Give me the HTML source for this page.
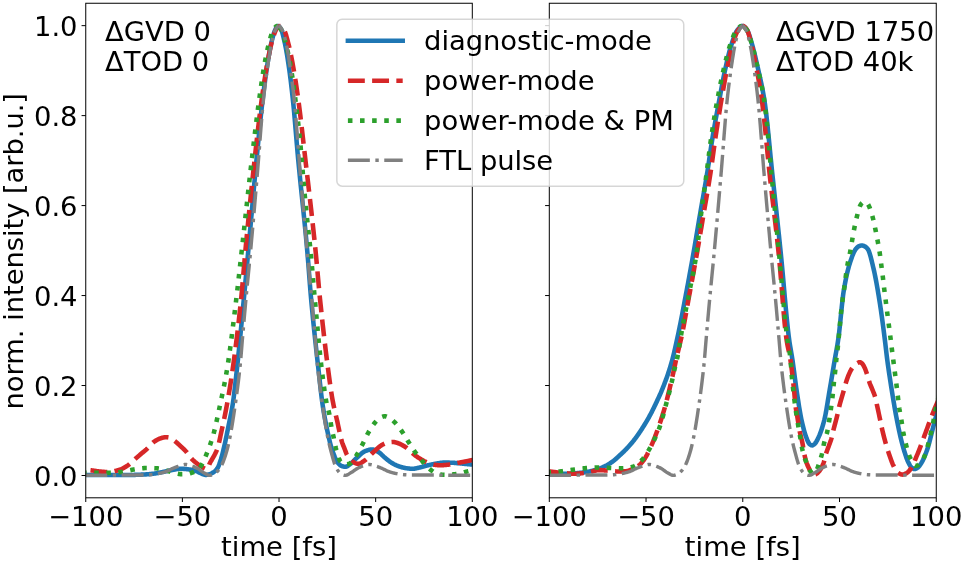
<!DOCTYPE html>
<html lang="en">
<head>
<meta charset="utf-8">
<title>Pulse shapes</title>
<style>html,body{margin:0;padding:0;background:#fff;}svg{display:block;}</style>
</head>
<body>
<svg width="962" height="565" viewBox="0 0 962 565" font-family="'DejaVu Sans', 'Liberation Sans', sans-serif" font-size="27.4" fill="#000">
<defs>
<clipPath id="cl"><rect x="85.75" y="3.25" width="386.55" height="494.55"/></clipPath>
<clipPath id="cr"><rect x="549.3" y="3.25" width="386.95" height="494.55"/></clipPath>
</defs>
<rect width="962" height="565" fill="#fff"/>
<g clip-path="url(#cl)" fill="none" stroke-linejoin="round">
<path d="M81.88 475.05 L82.32 475.05 L82.76 475.05 L83.20 475.05 L83.64 475.05 L84.08 475.05 L84.52 475.05 L84.95 475.05 L85.39 475.05 L85.83 475.05 L86.27 475.05 L86.71 475.05 L87.15 475.05 L87.59 475.05 L88.02 475.05 L88.46 475.05 L88.90 475.05 L89.34 475.05 L89.78 475.05 L90.22 475.05 L90.66 475.05 L91.09 475.05 L91.53 475.05 L91.97 475.05 L92.41 475.05 L92.85 475.05 L93.29 475.05 L93.73 475.05 L94.16 475.05 L94.60 475.05 L95.04 475.05 L95.48 475.05 L95.92 475.05 L96.36 475.05 L96.80 475.05 L97.23 475.05 L97.67 475.05 L98.11 475.05 L98.55 475.05 L98.99 475.05 L99.43 475.05 L99.87 475.05 L100.30 475.05 L100.74 475.05 L101.18 475.05 L101.62 475.05 L102.06 475.05 L102.50 475.05 L102.94 475.05 L103.37 475.05 L103.81 475.05 L104.25 475.05 L104.69 475.05 L105.13 475.05 L105.57 475.05 L106.01 475.05 L106.44 475.05 L106.88 475.05 L107.32 475.05 L107.76 475.05 L108.20 475.05 L108.64 475.05 L109.08 475.05 L109.51 475.05 L109.95 475.05 L110.39 475.05 L110.83 475.05 L111.27 475.05 L111.71 475.05 L112.15 475.05 L112.58 475.05 L113.02 475.05 L113.46 475.05 L113.90 475.05 L114.34 475.05 L114.78 475.05 L115.22 475.05 L115.65 475.05 L116.09 475.05 L116.53 475.05 L116.97 475.05 L117.41 475.05 L117.85 475.05 L118.29 475.05 L118.72 475.05 L119.16 475.05 L119.60 475.05 L120.04 475.05 L120.48 475.05 L120.92 475.05 L121.36 475.05 L121.80 475.05 L122.23 475.05 L122.67 475.05 L123.11 475.05 L123.55 475.05 L123.99 475.05 L124.43 475.05 L124.87 475.05 L125.30 475.05 L125.74 475.05 L126.18 475.04 L126.62 475.04 L127.06 475.04 L127.50 475.03 L127.94 475.03 L128.37 475.02 L128.81 475.02 L129.25 475.01 L129.69 475.00 L130.13 474.99 L130.57 474.98 L131.01 474.97 L131.44 474.96 L131.88 474.95 L132.32 474.94 L132.76 474.93 L133.20 474.92 L133.64 474.91 L134.08 474.90 L134.51 474.88 L134.95 474.87 L135.39 474.86 L135.83 474.84 L136.27 474.83 L136.71 474.81 L137.15 474.80 L137.58 474.78 L138.02 474.77 L138.46 474.75 L138.90 474.74 L139.34 474.72 L139.78 474.70 L140.22 474.69 L140.65 474.67 L141.09 474.65 L141.53 474.63 L141.97 474.62 L142.41 474.60 L142.85 474.58 L143.29 474.56 L143.72 474.54 L144.16 474.52 L144.60 474.49 L145.04 474.46 L145.48 474.43 L145.92 474.40 L146.36 474.37 L146.79 474.34 L147.23 474.31 L147.67 474.27 L148.11 474.23 L148.55 474.20 L148.99 474.16 L149.43 474.12 L149.86 474.07 L150.30 474.03 L150.74 473.99 L151.18 473.94 L151.62 473.90 L152.06 473.85 L152.50 473.80 L152.93 473.75 L153.37 473.70 L153.81 473.65 L154.25 473.60 L154.69 473.54 L155.13 473.47 L155.57 473.40 L156.00 473.33 L156.44 473.26 L156.88 473.18 L157.32 473.10 L157.76 473.02 L158.20 472.93 L158.64 472.84 L159.07 472.76 L159.51 472.67 L159.95 472.58 L160.39 472.49 L160.83 472.40 L161.27 472.31 L161.71 472.22 L162.14 472.13 L162.58 472.04 L163.02 471.95 L163.46 471.86 L163.90 471.77 L164.34 471.68 L164.78 471.59 L165.21 471.49 L165.65 471.39 L166.09 471.29 L166.53 471.19 L166.97 471.09 L167.41 470.99 L167.85 470.89 L168.28 470.79 L168.72 470.69 L169.16 470.59 L169.60 470.49 L170.04 470.40 L170.48 470.31 L170.92 470.22 L171.35 470.13 L171.79 470.05 L172.23 469.97 L172.67 469.89 L173.11 469.82 L173.55 469.74 L173.99 469.66 L174.42 469.58 L174.86 469.49 L175.30 469.41 L175.74 469.33 L176.18 469.25 L176.62 469.18 L177.06 469.10 L177.49 469.04 L177.93 468.97 L178.37 468.92 L178.81 468.87 L179.25 468.83 L179.69 468.80 L180.13 468.77 L180.56 468.76 L181.00 468.76 L181.44 468.76 L181.88 468.77 L182.32 468.79 L182.76 468.81 L183.20 468.83 L183.63 468.86 L184.07 468.89 L184.51 468.92 L184.95 468.96 L185.39 469.00 L185.83 469.05 L186.27 469.09 L186.70 469.14 L187.14 469.19 L187.58 469.24 L188.02 469.29 L188.46 469.35 L188.90 469.40 L189.34 469.45 L189.77 469.52 L190.21 469.59 L190.65 469.66 L191.09 469.75 L191.53 469.84 L191.97 469.93 L192.41 470.04 L192.84 470.15 L193.28 470.26 L193.72 470.38 L194.16 470.50 L194.60 470.63 L195.04 470.77 L195.48 470.90 L195.91 471.04 L196.35 471.18 L196.79 471.33 L197.23 471.51 L197.67 471.71 L198.11 471.92 L198.55 472.14 L198.98 472.38 L199.42 472.61 L199.86 472.85 L200.30 473.07 L200.74 473.29 L201.18 473.49 L201.62 473.67 L202.05 473.83 L202.49 474.00 L202.93 474.18 L203.37 474.35 L203.81 474.52 L204.25 474.66 L204.69 474.78 L205.12 474.86 L205.56 474.91 L206.00 474.91 L206.44 474.88 L206.88 474.83 L207.32 474.76 L207.76 474.67 L208.19 474.57 L208.63 474.46 L209.07 474.34 L209.51 474.22 L209.95 474.09 L210.39 473.93 L210.83 473.74 L211.26 473.54 L211.70 473.31 L212.14 473.07 L212.58 472.81 L213.02 472.54 L213.46 472.26 L213.90 471.96 L214.33 471.65 L214.77 471.30 L215.21 470.93 L215.65 470.52 L216.09 470.07 L216.53 469.58 L216.97 469.04 L217.40 468.42 L217.84 467.65 L218.28 466.74 L218.72 465.69 L219.16 464.55 L219.60 463.33 L220.04 462.06 L220.47 460.76 L220.91 459.42 L221.35 457.96 L221.79 456.39 L222.23 454.72 L222.67 452.98 L223.11 451.20 L223.54 449.38 L223.98 447.54 L224.42 445.64 L224.86 443.68 L225.30 441.66 L225.74 439.60 L226.18 437.50 L226.62 435.37 L227.05 433.22 L227.49 431.05 L227.93 428.86 L228.37 426.68 L228.81 424.50 L229.25 422.37 L229.69 420.28 L230.12 418.19 L230.56 416.07 L231.00 413.90 L231.44 411.64 L231.88 409.27 L232.32 406.75 L232.76 404.07 L233.19 401.15 L233.63 397.96 L234.07 394.52 L234.51 390.89 L234.95 387.10 L235.39 383.19 L235.83 379.20 L236.26 375.17 L236.70 371.14 L237.14 367.12 L237.58 363.02 L238.02 358.84 L238.46 354.58 L238.90 350.26 L239.33 345.88 L239.77 341.44 L240.21 336.95 L240.65 332.42 L241.09 327.86 L241.53 323.28 L241.97 318.67 L242.40 314.05 L242.84 309.43 L243.28 304.81 L243.72 300.19 L244.16 295.58 L244.60 290.92 L245.04 286.23 L245.47 281.50 L245.91 276.75 L246.35 271.97 L246.79 267.19 L247.23 262.39 L247.67 257.59 L248.11 252.80 L248.54 248.00 L248.98 243.17 L249.42 238.31 L249.86 233.42 L250.30 228.51 L250.74 223.59 L251.18 218.65 L251.61 213.71 L252.05 208.77 L252.49 203.84 L252.93 198.93 L253.37 194.03 L253.81 189.15 L254.25 184.31 L254.68 179.51 L255.12 174.74 L255.56 170.03 L256.00 165.36 L256.44 160.76 L256.88 156.21 L257.32 151.65 L257.75 147.08 L258.19 142.53 L258.63 138.00 L259.07 133.51 L259.51 129.06 L259.95 124.68 L260.39 120.36 L260.82 116.13 L261.26 112.00 L261.70 107.97 L262.14 104.07 L262.58 100.29 L263.02 96.63 L263.46 93.03 L263.89 89.50 L264.33 86.04 L264.77 82.67 L265.21 79.38 L265.65 76.18 L266.09 73.07 L266.53 70.06 L266.96 67.15 L267.40 64.34 L267.84 61.60 L268.28 58.92 L268.72 56.29 L269.16 53.75 L269.60 51.30 L270.03 48.97 L270.47 46.77 L270.91 44.71 L271.35 42.81 L271.79 41.00 L272.23 39.23 L272.67 37.51 L273.10 35.89 L273.54 34.36 L273.98 32.97 L274.42 31.72 L274.86 30.64 L275.30 29.74 L275.74 28.88 L276.17 28.04 L276.61 27.28 L277.05 26.65 L277.49 26.20 L277.93 25.98 L278.37 26.02 L278.81 26.25 L279.24 26.65 L279.68 27.17 L280.12 27.79 L280.56 28.47 L281.00 29.18 L281.44 30.07 L281.88 31.22 L282.31 32.61 L282.75 34.19 L283.19 35.92 L283.63 37.76 L284.07 39.68 L284.51 41.64 L284.95 43.60 L285.38 45.68 L285.82 47.93 L286.26 50.32 L286.70 52.84 L287.14 55.47 L287.58 58.21 L288.02 61.04 L288.45 63.95 L288.89 66.92 L289.33 70.02 L289.77 73.24 L290.21 76.59 L290.65 80.07 L291.09 83.66 L291.52 87.38 L291.96 91.21 L292.40 95.15 L292.84 99.19 L293.28 103.41 L293.72 107.90 L294.16 112.63 L294.59 117.56 L295.03 122.63 L295.47 127.80 L295.91 133.03 L296.35 138.27 L296.79 143.47 L297.23 148.60 L297.66 153.60 L298.10 158.42 L298.54 163.09 L298.98 167.65 L299.42 172.14 L299.86 176.55 L300.30 180.90 L300.73 185.21 L301.17 189.47 L301.61 193.71 L302.05 197.94 L302.49 202.16 L302.93 206.39 L303.37 210.63 L303.80 214.91 L304.24 219.23 L304.68 223.60 L305.12 228.03 L305.56 232.53 L306.00 237.13 L306.44 241.81 L306.87 246.61 L307.31 251.53 L307.75 256.71 L308.19 262.16 L308.63 267.79 L309.07 273.52 L309.51 279.25 L309.94 284.90 L310.38 290.38 L310.82 295.60 L311.26 300.49 L311.70 305.22 L312.14 309.85 L312.58 314.38 L313.01 318.82 L313.45 323.18 L313.89 327.47 L314.33 331.69 L314.77 335.85 L315.21 339.96 L315.65 344.02 L316.08 348.04 L316.52 352.04 L316.96 356.00 L317.40 359.96 L317.84 363.90 L318.28 367.83 L318.72 371.79 L319.15 375.79 L319.59 379.81 L320.03 383.81 L320.47 387.75 L320.91 391.58 L321.35 395.26 L321.79 398.76 L322.22 402.03 L322.66 405.04 L323.10 407.90 L323.54 410.65 L323.98 413.29 L324.42 415.84 L324.86 418.30 L325.29 420.67 L325.73 422.96 L326.17 425.19 L326.61 427.34 L327.05 429.44 L327.49 431.49 L327.93 433.50 L328.36 435.49 L328.80 437.45 L329.24 439.36 L329.68 441.22 L330.12 443.00 L330.56 444.71 L331.00 446.32 L331.43 447.83 L331.87 449.22 L332.31 450.49 L332.75 451.71 L333.19 452.90 L333.63 454.07 L334.07 455.20 L334.51 456.29 L334.94 457.33 L335.38 458.32 L335.82 459.26 L336.26 460.14 L336.70 460.96 L337.14 461.70 L337.58 462.37 L338.01 462.96 L338.45 463.46 L338.89 463.92 L339.33 464.36 L339.77 464.76 L340.21 465.12 L340.65 465.44 L341.08 465.71 L341.52 465.94 L341.96 466.10 L342.40 466.25 L342.84 466.39 L343.28 466.51 L343.72 466.62 L344.15 466.71 L344.59 466.78 L345.03 466.82 L345.47 466.82 L345.91 466.76 L346.35 466.64 L346.79 466.46 L347.22 466.23 L347.66 465.96 L348.10 465.66 L348.54 465.34 L348.98 465.00 L349.42 464.66 L349.86 464.32 L350.29 463.99 L350.73 463.67 L351.17 463.33 L351.61 462.96 L352.05 462.56 L352.49 462.14 L352.93 461.71 L353.36 461.27 L353.80 460.82 L354.24 460.36 L354.68 459.90 L355.12 459.44 L355.56 458.99 L356.00 458.56 L356.43 458.13 L356.87 457.73 L357.31 457.34 L357.75 456.95 L358.19 456.55 L358.63 456.14 L359.07 455.73 L359.50 455.32 L359.94 454.91 L360.38 454.51 L360.82 454.11 L361.26 453.73 L361.70 453.36 L362.14 453.00 L362.57 452.66 L363.01 452.34 L363.45 452.05 L363.89 451.78 L364.33 451.54 L364.77 451.33 L365.21 451.16 L365.64 450.99 L366.08 450.82 L366.52 450.66 L366.96 450.50 L367.40 450.35 L367.84 450.20 L368.28 450.06 L368.71 449.93 L369.15 449.82 L369.59 449.71 L370.03 449.62 L370.47 449.55 L370.91 449.49 L371.35 449.45 L371.78 449.43 L372.22 449.43 L372.66 449.47 L373.10 449.54 L373.54 449.65 L373.98 449.78 L374.42 449.94 L374.85 450.12 L375.29 450.32 L375.73 450.54 L376.17 450.77 L376.61 451.01 L377.05 451.26 L377.49 451.51 L377.92 451.76 L378.36 452.01 L378.80 452.26 L379.24 452.55 L379.68 452.87 L380.12 453.22 L380.56 453.60 L380.99 454.00 L381.43 454.41 L381.87 454.83 L382.31 455.26 L382.75 455.69 L383.19 456.11 L383.63 456.53 L384.06 456.93 L384.50 457.31 L384.94 457.68 L385.38 458.04 L385.82 458.41 L386.26 458.77 L386.70 459.14 L387.13 459.50 L387.57 459.86 L388.01 460.22 L388.45 460.57 L388.89 460.91 L389.33 461.24 L389.77 461.56 L390.20 461.87 L390.64 462.16 L391.08 462.44 L391.52 462.70 L391.96 462.97 L392.40 463.23 L392.84 463.48 L393.27 463.73 L393.71 463.98 L394.15 464.21 L394.59 464.45 L395.03 464.67 L395.47 464.89 L395.91 465.10 L396.34 465.31 L396.78 465.50 L397.22 465.69 L397.66 465.87 L398.10 466.04 L398.54 466.20 L398.98 466.35 L399.41 466.50 L399.85 466.64 L400.29 466.78 L400.73 466.92 L401.17 467.06 L401.61 467.18 L402.05 467.31 L402.48 467.43 L402.92 467.54 L403.36 467.65 L403.80 467.75 L404.24 467.84 L404.68 467.93 L405.12 468.00 L405.55 468.07 L405.99 468.14 L406.43 468.20 L406.87 468.26 L407.31 468.33 L407.75 468.39 L408.19 468.44 L408.62 468.50 L409.06 468.55 L409.50 468.60 L409.94 468.64 L410.38 468.67 L410.82 468.71 L411.26 468.73 L411.69 468.75 L412.13 468.76 L412.57 468.76 L413.01 468.74 L413.45 468.71 L413.89 468.67 L414.33 468.62 L414.76 468.56 L415.20 468.49 L415.64 468.41 L416.08 468.32 L416.52 468.23 L416.96 468.13 L417.40 468.03 L417.83 467.93 L418.27 467.83 L418.71 467.72 L419.15 467.62 L419.59 467.52 L420.03 467.43 L420.47 467.33 L420.90 467.23 L421.34 467.13 L421.78 467.01 L422.22 466.90 L422.66 466.78 L423.10 466.66 L423.54 466.53 L423.97 466.41 L424.41 466.28 L424.85 466.16 L425.29 466.03 L425.73 465.90 L426.17 465.78 L426.61 465.66 L427.04 465.54 L427.48 465.43 L427.92 465.32 L428.36 465.22 L428.80 465.12 L429.24 465.02 L429.68 464.92 L430.11 464.82 L430.55 464.72 L430.99 464.62 L431.43 464.52 L431.87 464.42 L432.31 464.33 L432.75 464.23 L433.18 464.14 L433.62 464.05 L434.06 463.96 L434.50 463.88 L434.94 463.79 L435.38 463.71 L435.82 463.63 L436.25 463.56 L436.69 463.49 L437.13 463.42 L437.57 463.35 L438.01 463.29 L438.45 463.22 L438.89 463.15 L439.33 463.08 L439.76 463.01 L440.20 462.95 L440.64 462.88 L441.08 462.82 L441.52 462.77 L441.96 462.72 L442.40 462.68 L442.83 462.64 L443.27 462.62 L443.71 462.60 L444.15 462.60 L444.59 462.60 L445.03 462.60 L445.47 462.60 L445.90 462.61 L446.34 462.61 L446.78 462.61 L447.22 462.62 L447.66 462.63 L448.10 462.63 L448.54 462.64 L448.97 462.65 L449.41 462.65 L449.85 462.66 L450.29 462.67 L450.73 462.68 L451.17 462.69 L451.61 462.70 L452.04 462.72 L452.48 462.74 L452.92 462.77 L453.36 462.80 L453.80 462.83 L454.24 462.87 L454.68 462.90 L455.11 462.94 L455.55 462.98 L455.99 463.02 L456.43 463.06 L456.87 463.10 L457.31 463.14 L457.75 463.18 L458.18 463.22 L458.62 463.26 L459.06 463.30 L459.50 463.34 L459.94 463.37 L460.38 463.42 L460.82 463.46 L461.25 463.50 L461.69 463.55 L462.13 463.59 L462.57 463.64 L463.01 463.68 L463.45 463.73 L463.89 463.77 L464.32 463.82 L464.76 463.87 L465.20 463.91 L465.64 463.96 L466.08 464.01 L466.52 464.05 L466.96 464.09 L467.39 464.14 L467.83 464.18 L468.27 464.22 L468.71 464.26 L469.15 464.30 L469.59 464.34 L470.03 464.37 L470.46 464.40 L470.90 464.43 L471.34 464.46 L471.78 464.49 L472.22 464.52 L472.66 464.54 L473.10 464.57 L473.53 464.59 L473.97 464.61 L474.41 464.64 L474.85 464.66 L475.29 464.68 L475.73 464.71 L476.17 464.73" stroke="#1f77b4" stroke-width="4.57"/>
<path d="M81.88 469.79 L82.32 469.81 L82.76 469.83 L83.20 469.85 L83.64 469.87 L84.08 469.89 L84.52 469.91 L84.95 469.94 L85.39 469.96 L85.83 469.99 L86.27 470.02 L86.71 470.04 L87.15 470.07 L87.59 470.10 L88.02 470.13 L88.46 470.16 L88.90 470.18 L89.34 470.21 L89.78 470.24 L90.22 470.27 L90.66 470.31 L91.09 470.34 L91.53 470.39 L91.97 470.44 L92.41 470.49 L92.85 470.55 L93.29 470.61 L93.73 470.67 L94.16 470.74 L94.60 470.81 L95.04 470.88 L95.48 470.95 L95.92 471.02 L96.36 471.08 L96.80 471.15 L97.23 471.21 L97.67 471.27 L98.11 471.33 L98.55 471.38 L98.99 471.43 L99.43 471.47 L99.87 471.51 L100.30 471.55 L100.74 471.59 L101.18 471.63 L101.62 471.68 L102.06 471.72 L102.50 471.76 L102.94 471.79 L103.37 471.83 L103.81 471.86 L104.25 471.89 L104.69 471.92 L105.13 471.94 L105.57 471.96 L106.01 471.98 L106.44 471.99 L106.88 471.99 L107.32 471.99 L107.76 471.98 L108.20 471.97 L108.64 471.95 L109.08 471.92 L109.51 471.89 L109.95 471.86 L110.39 471.82 L110.83 471.78 L111.27 471.74 L111.71 471.69 L112.15 471.64 L112.58 471.58 L113.02 471.50 L113.46 471.40 L113.90 471.30 L114.34 471.20 L114.78 471.09 L115.22 470.98 L115.65 470.88 L116.09 470.77 L116.53 470.66 L116.97 470.55 L117.41 470.43 L117.85 470.31 L118.29 470.18 L118.72 470.05 L119.16 469.91 L119.60 469.76 L120.04 469.61 L120.48 469.45 L120.92 469.28 L121.36 469.10 L121.80 468.90 L122.23 468.69 L122.67 468.47 L123.11 468.24 L123.55 468.00 L123.99 467.76 L124.43 467.51 L124.87 467.25 L125.30 467.00 L125.74 466.74 L126.18 466.47 L126.62 466.19 L127.06 465.91 L127.50 465.62 L127.94 465.31 L128.37 465.00 L128.81 464.68 L129.25 464.35 L129.69 464.01 L130.13 463.66 L130.57 463.29 L131.01 462.90 L131.44 462.51 L131.88 462.10 L132.32 461.69 L132.76 461.27 L133.20 460.85 L133.64 460.44 L134.08 460.02 L134.51 459.60 L134.95 459.20 L135.39 458.80 L135.83 458.41 L136.27 458.02 L136.71 457.64 L137.15 457.25 L137.58 456.87 L138.02 456.49 L138.46 456.11 L138.90 455.74 L139.34 455.36 L139.78 454.98 L140.22 454.61 L140.65 454.23 L141.09 453.85 L141.53 453.48 L141.97 453.10 L142.41 452.73 L142.85 452.37 L143.29 452.00 L143.72 451.64 L144.16 451.28 L144.60 450.92 L145.04 450.56 L145.48 450.19 L145.92 449.81 L146.36 449.43 L146.79 449.04 L147.23 448.64 L147.67 448.23 L148.11 447.80 L148.55 447.33 L148.99 446.84 L149.43 446.34 L149.86 445.83 L150.30 445.32 L150.74 444.81 L151.18 444.31 L151.62 443.84 L152.06 443.38 L152.50 442.96 L152.93 442.58 L153.37 442.24 L153.81 441.92 L154.25 441.61 L154.69 441.31 L155.13 441.02 L155.57 440.74 L156.00 440.47 L156.44 440.22 L156.88 439.97 L157.32 439.74 L157.76 439.51 L158.20 439.30 L158.64 439.10 L159.07 438.91 L159.51 438.73 L159.95 438.56 L160.39 438.39 L160.83 438.23 L161.27 438.08 L161.71 437.94 L162.14 437.82 L162.58 437.71 L163.02 437.61 L163.46 437.53 L163.90 437.44 L164.34 437.36 L164.78 437.29 L165.21 437.24 L165.65 437.21 L166.09 437.20 L166.53 437.22 L166.97 437.25 L167.41 437.29 L167.85 437.35 L168.28 437.42 L168.72 437.49 L169.16 437.59 L169.60 437.76 L170.04 437.99 L170.48 438.26 L170.92 438.55 L171.35 438.84 L171.79 439.11 L172.23 439.37 L172.67 439.64 L173.11 439.92 L173.55 440.20 L173.99 440.50 L174.42 440.80 L174.86 441.12 L175.30 441.45 L175.74 441.80 L176.18 442.16 L176.62 442.54 L177.06 442.92 L177.49 443.31 L177.93 443.71 L178.37 444.11 L178.81 444.52 L179.25 444.93 L179.69 445.34 L180.13 445.75 L180.56 446.16 L181.00 446.56 L181.44 446.96 L181.88 447.37 L182.32 447.77 L182.76 448.18 L183.20 448.59 L183.63 449.00 L184.07 449.43 L184.51 449.87 L184.95 450.31 L185.39 450.77 L185.83 451.24 L186.27 451.73 L186.70 452.26 L187.14 452.82 L187.58 453.42 L188.02 454.04 L188.46 454.68 L188.90 455.31 L189.34 455.94 L189.77 456.56 L190.21 457.14 L190.65 457.69 L191.09 458.20 L191.53 458.67 L191.97 459.12 L192.41 459.56 L192.84 459.99 L193.28 460.41 L193.72 460.81 L194.16 461.20 L194.60 461.58 L195.04 461.96 L195.48 462.32 L195.91 462.68 L196.35 463.02 L196.79 463.37 L197.23 463.70 L197.67 464.02 L198.11 464.34 L198.55 464.64 L198.98 464.94 L199.42 465.24 L199.86 465.53 L200.30 465.82 L200.74 466.10 L201.18 466.39 L201.62 466.67 L202.05 466.96 L202.49 467.26 L202.93 467.55 L203.37 467.84 L203.81 468.11 L204.25 468.36 L204.69 468.56 L205.12 468.77 L205.56 468.97 L206.00 469.12 L206.44 469.20 L206.88 469.12 L207.32 468.80 L207.76 468.30 L208.19 467.69 L208.63 466.55 L209.07 465.09 L209.51 463.89 L209.95 462.99 L210.39 462.18 L210.83 461.44 L211.26 460.72 L211.70 459.99 L212.14 459.20 L212.58 458.39 L213.02 457.60 L213.46 456.83 L213.90 456.06 L214.33 455.28 L214.77 454.48 L215.21 453.64 L215.65 452.76 L216.09 451.83 L216.53 450.83 L216.97 449.74 L217.40 448.57 L217.84 447.21 L218.28 445.64 L218.72 443.90 L219.16 442.01 L219.60 440.02 L220.04 437.97 L220.47 435.89 L220.91 433.82 L221.35 431.79 L221.79 429.82 L222.23 427.83 L222.67 425.83 L223.11 423.81 L223.54 421.77 L223.98 419.70 L224.42 417.60 L224.86 415.46 L225.30 413.28 L225.74 411.05 L226.18 408.78 L226.62 406.45 L227.05 404.06 L227.49 401.64 L227.93 399.16 L228.37 396.64 L228.81 394.08 L229.25 391.46 L229.69 388.79 L230.12 386.07 L230.56 383.30 L231.00 380.47 L231.44 377.59 L231.88 374.65 L232.32 371.65 L232.76 368.59 L233.19 365.48 L233.63 362.32 L234.07 359.10 L234.51 355.82 L234.95 352.49 L235.39 349.10 L235.83 345.65 L236.26 342.15 L236.70 338.58 L237.14 334.95 L237.58 331.26 L238.02 327.51 L238.46 323.69 L238.90 319.81 L239.33 315.86 L239.77 311.84 L240.21 307.75 L240.65 303.60 L241.09 299.37 L241.53 294.97 L241.97 290.29 L242.40 285.38 L242.84 280.30 L243.28 275.12 L243.72 269.90 L244.16 264.71 L244.60 259.60 L245.04 254.64 L245.47 249.90 L245.91 245.25 L246.35 240.63 L246.79 236.05 L247.23 231.49 L247.67 226.97 L248.11 222.47 L248.54 218.01 L248.98 213.57 L249.42 209.17 L249.86 204.80 L250.30 200.47 L250.74 196.16 L251.18 191.89 L251.61 187.65 L252.05 183.45 L252.49 179.27 L252.93 175.13 L253.37 171.03 L253.81 166.96 L254.25 162.92 L254.68 158.92 L255.12 154.94 L255.56 150.97 L256.00 147.01 L256.44 143.07 L256.88 139.16 L257.32 135.29 L257.75 131.45 L258.19 127.66 L258.63 123.92 L259.07 120.23 L259.51 116.61 L259.95 113.05 L260.39 109.57 L260.82 106.17 L261.26 102.85 L261.70 99.62 L262.14 96.46 L262.58 93.34 L263.02 90.27 L263.46 87.25 L263.89 84.29 L264.33 81.38 L264.77 78.54 L265.21 75.76 L265.65 73.05 L266.09 70.42 L266.53 67.85 L266.96 65.37 L267.40 62.97 L267.84 60.62 L268.28 58.29 L268.72 56.00 L269.16 53.75 L269.60 51.57 L270.03 49.46 L270.47 47.44 L270.91 45.51 L271.35 43.70 L271.79 42.01 L272.23 40.46 L272.67 39.00 L273.10 37.54 L273.54 36.13 L273.98 34.77 L274.42 33.48 L274.86 32.28 L275.30 31.19 L275.74 30.23 L276.17 29.42 L276.61 28.78 L277.05 28.26 L277.49 27.76 L277.93 27.29 L278.37 26.87 L278.81 26.51 L279.24 26.23 L279.68 26.04 L280.12 25.97" stroke="#d62728" stroke-width="4.57" stroke-dasharray="16.91 7.31" stroke-dashoffset="15.59"/>
<path d="M280.12 25.97 L280.56 26.02 L281.00 26.21 L281.44 26.52 L281.88 26.94 L282.31 27.43 L282.75 27.99 L283.19 28.60 L283.63 29.23 L284.07 29.90 L284.51 30.74 L284.95 31.76 L285.38 32.95 L285.82 34.27 L286.26 35.72 L286.70 37.26 L287.14 38.87 L287.58 40.54 L288.02 42.24 L288.45 43.94 L288.89 45.65 L289.33 47.44 L289.77 49.35 L290.21 51.35 L290.65 53.44 L291.09 55.60 L291.52 57.84 L291.96 60.14 L292.40 62.49 L292.84 64.88 L293.28 67.32 L293.72 69.78 L294.16 72.32 L294.59 74.93 L295.03 77.62 L295.47 80.38 L295.91 83.21 L296.35 86.11 L296.79 89.07 L297.23 92.10 L297.66 95.18 L298.10 98.33 L298.54 101.53 L298.98 104.84 L299.42 108.25 L299.86 111.75 L300.30 115.33 L300.73 118.99 L301.17 122.70 L301.61 126.47 L302.05 130.29 L302.49 134.14 L302.93 138.01 L303.37 141.89 L303.80 145.78 L304.24 149.66 L304.68 153.53 L305.12 157.37 L305.56 161.18 L306.00 164.98 L306.44 168.76 L306.87 172.54 L307.31 176.31 L307.75 180.08 L308.19 183.85 L308.63 187.63 L309.07 191.42 L309.51 195.22 L309.94 199.03 L310.38 202.87 L310.82 206.73 L311.26 210.61 L311.70 214.53 L312.14 218.47 L312.58 222.46 L313.01 226.48 L313.45 230.55 L313.89 234.66 L314.33 238.83 L314.77 243.04 L315.21 247.32 L315.65 251.65 L316.08 256.17 L316.52 260.87 L316.96 265.70 L317.40 270.63 L317.84 275.59 L318.28 280.53 L318.72 285.41 L319.15 290.17 L319.59 294.77 L320.03 299.15 L320.47 303.40 L320.91 307.60 L321.35 311.75 L321.79 315.85 L322.22 319.90 L322.66 323.91 L323.10 327.86 L323.54 331.76 L323.98 335.62 L324.42 339.42 L324.86 343.17 L325.29 346.87 L325.73 350.52 L326.17 354.11 L326.61 357.65 L327.05 361.14 L327.49 364.58 L327.93 367.96 L328.36 371.29 L328.80 374.61 L329.24 377.89 L329.68 381.13 L330.12 384.30 L330.56 387.38 L331.00 390.37 L331.43 393.25 L331.87 395.99 L332.31 398.58 L332.75 401.00 L333.19 403.29 L333.63 405.46 L334.07 407.53 L334.51 409.53 L334.94 411.46 L335.38 413.35 L335.82 415.22 L336.26 417.08 L336.70 418.95 L337.14 420.86 L337.58 422.82 L338.01 424.85 L338.45 426.93 L338.89 429.03 L339.33 431.13 L339.77 433.18 L340.21 435.18 L340.65 437.08 L341.08 438.86 L341.52 440.49 L341.96 441.95 L342.40 443.25 L342.84 444.44 L343.28 445.55 L343.72 446.62 L344.15 447.69 L344.59 448.78 L345.03 449.95 L345.47 451.15 L345.91 452.34 L346.35 453.46 L346.79 454.47 L347.22 455.31 L347.66 456.03 L348.10 456.72 L348.54 457.38 L348.98 458.01 L349.42 458.60 L349.86 459.15 L350.29 459.66 L350.73 460.14 L351.17 460.57 L351.61 460.95 L352.05 461.29 L352.49 461.57 L352.93 461.84 L353.36 462.10 L353.80 462.35 L354.24 462.60 L354.68 462.83 L355.12 463.04 L355.56 463.23 L356.00 463.41 L356.43 463.55 L356.87 463.67 L357.31 463.75 L357.75 463.80 L358.19 463.81 L358.63 463.77 L359.07 463.69 L359.50 463.58 L359.94 463.42 L360.38 463.23 L360.82 463.01 L361.26 462.77 L361.70 462.51 L362.14 462.23 L362.57 461.93 L363.01 461.63 L363.45 461.32 L363.89 461.01 L364.33 460.70 L364.77 460.40 L365.21 460.10 L365.64 459.78 L366.08 459.43 L366.52 459.05 L366.96 458.66 L367.40 458.24 L367.84 457.81 L368.28 457.36 L368.71 456.91 L369.15 456.45 L369.59 455.98 L370.03 455.51 L370.47 455.04 L370.91 454.58 L371.35 454.13 L371.78 453.68 L372.22 453.25 L372.66 452.84 L373.10 452.45 L373.54 452.05 L373.98 451.65 L374.42 451.24 L374.85 450.84 L375.29 450.43 L375.73 450.02 L376.17 449.61 L376.61 449.20 L377.05 448.80 L377.49 448.40 L377.92 448.01 L378.36 447.62 L378.80 447.25 L379.24 446.89 L379.68 446.53 L380.12 446.20 L380.56 445.87 L380.99 445.56 L381.43 445.27 L381.87 445.00 L382.31 444.75 L382.75 444.51 L383.19 444.30 L383.63 444.09 L384.06 443.88 L384.50 443.68 L384.94 443.49 L385.38 443.30 L385.82 443.13 L386.26 442.98 L386.70 442.83 L387.13 442.70 L387.57 442.59 L388.01 442.50 L388.45 442.42 L388.89 442.35 L389.33 442.28 L389.77 442.21 L390.20 442.15 L390.64 442.09 L391.08 442.05 L391.52 442.01 L391.96 441.98 L392.40 441.97 L392.84 441.97 L393.27 441.99 L393.71 442.04 L394.15 442.10 L394.59 442.19 L395.03 442.29 L395.47 442.40 L395.91 442.52 L396.34 442.65 L396.78 442.79 L397.22 442.93 L397.66 443.06 L398.10 443.20 L398.54 443.35 L398.98 443.51 L399.41 443.69 L399.85 443.87 L400.29 444.08 L400.73 444.29 L401.17 444.51 L401.61 444.74 L402.05 444.97 L402.48 445.22 L402.92 445.47 L403.36 445.73 L403.80 445.99 L404.24 446.25 L404.68 446.52 L405.12 446.80 L405.55 447.10 L405.99 447.41 L406.43 447.74 L406.87 448.08 L407.31 448.44 L407.75 448.81 L408.19 449.19 L408.62 449.58 L409.06 449.97 L409.50 450.37 L409.94 450.78 L410.38 451.18 L410.82 451.59 L411.26 452.00 L411.69 452.41 L412.13 452.82 L412.57 453.22 L413.01 453.61 L413.45 454.00 L413.89 454.38 L414.33 454.75 L414.76 455.11 L415.20 455.45 L415.64 455.79 L416.08 456.10 L416.52 456.40 L416.96 456.69 L417.40 456.98 L417.83 457.27 L418.27 457.56 L418.71 457.84 L419.15 458.12 L419.59 458.40 L420.03 458.68 L420.47 458.95 L420.90 459.22 L421.34 459.48 L421.78 459.74 L422.22 460.00 L422.66 460.25 L423.10 460.49 L423.54 460.73 L423.97 460.97 L424.41 461.20 L424.85 461.42 L425.29 461.64 L425.73 461.85 L426.17 462.05 L426.61 462.25 L427.04 462.44 L427.48 462.62 L427.92 462.79 L428.36 462.96 L428.80 463.13 L429.24 463.29 L429.68 463.45 L430.11 463.61 L430.55 463.76 L430.99 463.91 L431.43 464.06 L431.87 464.19 L432.31 464.32 L432.75 464.44 L433.18 464.54 L433.62 464.64 L434.06 464.72 L434.50 464.79 L434.94 464.84 L435.38 464.90 L435.82 464.95 L436.25 465.00 L436.69 465.05 L437.13 465.09 L437.57 465.13 L438.01 465.17 L438.45 465.20 L438.89 465.22 L439.33 465.24 L439.76 465.25 L440.20 465.25 L440.64 465.25 L441.08 465.24 L441.52 465.22 L441.96 465.20 L442.40 465.18 L442.83 465.16 L443.27 465.13 L443.71 465.10 L444.15 465.07 L444.59 465.03 L445.03 464.99 L445.47 464.95 L445.90 464.92 L446.34 464.88 L446.78 464.84 L447.22 464.80 L447.66 464.75 L448.10 464.71 L448.54 464.65 L448.97 464.59 L449.41 464.53 L449.85 464.46 L450.29 464.39 L450.73 464.31 L451.17 464.24 L451.61 464.15 L452.04 464.07 L452.48 463.98 L452.92 463.90 L453.36 463.81 L453.80 463.72 L454.24 463.63 L454.68 463.54 L455.11 463.45 L455.55 463.36 L455.99 463.27 L456.43 463.18 L456.87 463.09 L457.31 463.01 L457.75 462.92 L458.18 462.84 L458.62 462.76 L459.06 462.68 L459.50 462.59 L459.94 462.51 L460.38 462.43 L460.82 462.34 L461.25 462.26 L461.69 462.17 L462.13 462.08 L462.57 462.00 L463.01 461.91 L463.45 461.82 L463.89 461.74 L464.32 461.65 L464.76 461.56 L465.20 461.48 L465.64 461.39 L466.08 461.30 L466.52 461.21 L466.96 461.13 L467.39 461.04 L467.83 460.96 L468.27 460.87 L468.71 460.79 L469.15 460.70 L469.59 460.62 L470.03 460.53 L470.46 460.45 L470.90 460.37 L471.34 460.29 L471.78 460.20 L472.22 460.12 L472.66 460.04 L473.10 459.96 L473.53 459.89 L473.97 459.81 L474.41 459.73 L474.85 459.65 L475.29 459.57 L475.73 459.49 L476.17 459.42" stroke="#d62728" stroke-width="4.57" stroke-dasharray="16.91 7.31" stroke-dashoffset="16.56"/>
<path d="M81.88 472.80 L82.32 472.80 L82.76 472.80 L83.20 472.80 L83.64 472.80 L84.08 472.80 L84.52 472.80 L84.95 472.80 L85.39 472.80 L85.83 472.80 L86.27 472.80 L86.71 472.80 L87.15 472.80 L87.59 472.80 L88.02 472.80 L88.46 472.80 L88.90 472.80 L89.34 472.80 L89.78 472.80 L90.22 472.80 L90.66 472.80 L91.09 472.80 L91.53 472.80 L91.97 472.80 L92.41 472.80 L92.85 472.80 L93.29 472.80 L93.73 472.80 L94.16 472.80 L94.60 472.80 L95.04 472.80 L95.48 472.80 L95.92 472.80 L96.36 472.80 L96.80 472.80 L97.23 472.80 L97.67 472.80 L98.11 472.80 L98.55 472.80 L98.99 472.80 L99.43 472.80 L99.87 472.80 L100.30 472.80 L100.74 472.80 L101.18 472.80 L101.62 472.80 L102.06 472.80 L102.50 472.80 L102.94 472.80 L103.37 472.80 L103.81 472.80 L104.25 472.80 L104.69 472.80 L105.13 472.80 L105.57 472.80 L106.01 472.80 L106.44 472.80 L106.88 472.80 L107.32 472.80 L107.76 472.80 L108.20 472.80 L108.64 472.80 L109.08 472.80 L109.51 472.80 L109.95 472.80 L110.39 472.80 L110.83 472.80 L111.27 472.80 L111.71 472.80 L112.15 472.80 L112.58 472.80 L113.02 472.80 L113.46 472.80 L113.90 472.78 L114.34 472.76 L114.78 472.74 L115.22 472.71 L115.65 472.68 L116.09 472.64 L116.53 472.60 L116.97 472.55 L117.41 472.50 L117.85 472.45 L118.29 472.39 L118.72 472.33 L119.16 472.27 L119.60 472.20 L120.04 472.14 L120.48 472.07 L120.92 472.00 L121.36 471.93 L121.80 471.86 L122.23 471.79 L122.67 471.72 L123.11 471.65 L123.55 471.59 L123.99 471.52 L124.43 471.45 L124.87 471.38 L125.30 471.31 L125.74 471.23 L126.18 471.14 L126.62 471.05 L127.06 470.96 L127.50 470.87 L127.94 470.77 L128.37 470.67 L128.81 470.56 L129.25 470.46 L129.69 470.36 L130.13 470.25 L130.57 470.15 L131.01 470.04 L131.44 469.94 L131.88 469.84 L132.32 469.74 L132.76 469.65 L133.20 469.55 L133.64 469.46 L134.08 469.38 L134.51 469.30 L134.95 469.22 L135.39 469.15 L135.83 469.08 L136.27 469.00 L136.71 468.93 L137.15 468.87 L137.58 468.80 L138.02 468.73 L138.46 468.67 L138.90 468.61 L139.34 468.56 L139.78 468.50 L140.22 468.46 L140.65 468.41 L141.09 468.37 L141.53 468.34 L141.97 468.30 L142.41 468.26 L142.85 468.22 L143.29 468.18 L143.72 468.15 L144.16 468.12 L144.60 468.09 L145.04 468.07 L145.48 468.05 L145.92 468.04 L146.36 468.04 L146.79 468.04 L147.23 468.04 L147.67 468.04 L148.11 468.04 L148.55 468.04 L148.99 468.05 L149.43 468.05 L149.86 468.05 L150.30 468.06 L150.74 468.06 L151.18 468.07 L151.62 468.07 L152.06 468.08 L152.50 468.08 L152.93 468.09 L153.37 468.10 L153.81 468.12 L154.25 468.14 L154.69 468.16 L155.13 468.19 L155.57 468.22 L156.00 468.25 L156.44 468.28 L156.88 468.32 L157.32 468.36 L157.76 468.40 L158.20 468.44 L158.64 468.49 L159.07 468.55 L159.51 468.63 L159.95 468.71 L160.39 468.81 L160.83 468.92 L161.27 469.03 L161.71 469.15 L162.14 469.27 L162.58 469.40 L163.02 469.53 L163.46 469.66 L163.90 469.79 L164.34 469.92 L164.78 470.05 L165.21 470.17 L165.65 470.29 L166.09 470.42 L166.53 470.56 L166.97 470.70 L167.41 470.84 L167.85 470.98 L168.28 471.12 L168.72 471.26 L169.16 471.40 L169.60 471.54 L170.04 471.68 L170.48 471.81 L170.92 471.94 L171.35 472.07 L171.79 472.20 L172.23 472.33 L172.67 472.46 L173.11 472.59 L173.55 472.72 L173.99 472.84 L174.42 472.96 L174.86 473.08 L175.30 473.19 L175.74 473.29 L176.18 473.39 L176.62 473.48 L177.06 473.57 L177.49 473.67 L177.93 473.76 L178.37 473.85 L178.81 473.94 L179.25 474.01 L179.69 474.07 L180.13 474.12 L180.56 474.15 L181.00 474.15 L181.44 474.15 L181.88 474.14 L182.32 474.14 L182.76 474.13 L183.20 474.12 L183.63 474.10 L184.07 474.09 L184.51 474.07 L184.95 474.05 L185.39 474.03 L185.83 474.01 L186.27 473.98 L186.70 473.96 L187.14 473.93 L187.58 473.90 L188.02 473.84 L188.46 473.76 L188.90 473.66 L189.34 473.55 L189.77 473.43 L190.21 473.29 L190.65 473.14 L191.09 472.99 L191.53 472.83 L191.97 472.67 L192.41 472.51 L192.84 472.35 L193.28 472.18 L193.72 472.01 L194.16 471.83 L194.60 471.63 L195.04 471.42 L195.48 471.20 L195.91 470.96 L196.35 470.71 L196.79 470.43 L197.23 470.13 L197.67 469.80 L198.11 469.41 L198.55 468.97 L198.98 468.49 L199.42 467.97 L199.86 467.42 L200.30 466.85 L200.74 466.26 L201.18 465.61 L201.62 464.91 L202.05 464.16 L202.49 463.37 L202.93 462.54 L203.37 461.68 L203.81 460.78 L204.25 459.80 L204.69 458.75 L205.12 457.64 L205.56 456.52 L206.00 455.39 L206.44 454.29 L206.88 453.21 L207.32 452.12 L207.76 451.02 L208.19 449.91 L208.63 448.77 L209.07 447.60 L209.51 446.42 L209.95 445.21 L210.39 443.96 L210.83 442.65 L211.26 441.33 L211.70 439.98 L212.14 438.59 L212.58 437.17 L213.02 435.70 L213.46 434.18 L213.90 432.60 L214.33 430.93 L214.77 429.16 L215.21 427.29 L215.65 425.35 L216.09 423.38 L216.53 421.39 L216.97 419.42 L217.40 417.43 L217.84 415.41 L218.28 413.37 L218.72 411.30 L219.16 409.21 L219.60 407.11 L220.04 405.02 L220.47 402.95 L220.91 400.88 L221.35 398.82 L221.79 396.75 L222.23 394.67 L222.67 392.57 L223.11 390.45 L223.54 388.30 L223.98 386.12 L224.42 383.89 L224.86 381.61 L225.30 379.28 L225.74 376.89 L226.18 374.43 L226.62 371.90 L227.05 369.29 L227.49 366.59 L227.93 363.79 L228.37 360.89 L228.81 357.91 L229.25 354.85 L229.69 351.71 L230.12 348.50 L230.56 345.23 L231.00 341.90 L231.44 338.51 L231.88 335.08 L232.32 331.60 L232.76 328.08 L233.19 324.53 L233.63 320.95 L234.07 317.35 L234.51 313.74 L234.95 310.11 L235.39 306.48 L235.83 302.85 L236.26 299.22 L236.70 295.57 L237.14 291.84 L237.58 288.05 L238.02 284.19 L238.46 280.29 L238.90 276.36 L239.33 272.39 L239.77 268.41 L240.21 264.42 L240.65 260.43 L241.09 256.45 L241.53 252.49 L241.97 248.56 L242.40 244.61 L242.84 240.63 L243.28 236.64 L243.72 232.63 L244.16 228.62 L244.60 224.59 L245.04 220.55 L245.47 216.51 L245.91 212.48 L246.35 208.44 L246.79 204.41 L247.23 200.38 L247.67 196.37 L248.11 192.37 L248.54 188.39 L248.98 184.42 L249.42 180.48 L249.86 176.57 L250.30 172.68 L250.74 168.82 L251.18 165.00 L251.61 161.22 L252.05 157.47 L252.49 153.73 L252.93 149.99 L253.37 146.26 L253.81 142.54 L254.25 138.84 L254.68 135.17 L255.12 131.51 L255.56 127.89 L256.00 124.30 L256.44 120.75 L256.88 117.24 L257.32 113.78 L257.75 110.37 L258.19 107.01 L258.63 103.72 L259.07 100.49 L259.51 97.30 L259.95 94.12 L260.39 90.97 L260.82 87.86 L261.26 84.78 L261.70 81.76 L262.14 78.80 L262.58 75.91 L263.02 73.10 L263.46 70.38 L263.89 67.77 L264.33 65.26 L264.77 62.86 L265.21 60.52 L265.65 58.24 L266.09 56.01 L266.53 53.85 L266.96 51.75 L267.40 49.73 L267.84 47.78 L268.28 45.92 L268.72 44.14 L269.16 42.45 L269.60 40.84 L270.03 39.24 L270.47 37.65 L270.91 36.11 L271.35 34.64 L271.79 33.29 L272.23 32.08 L272.67 31.04 L273.10 30.20 L273.54 29.54 L273.98 28.89 L274.42 28.27 L274.86 27.70 L275.30 27.18 L275.74 26.73 L276.17 26.38 L276.61 26.12 L277.05 25.98 L277.49 25.98" stroke="#2ca02c" stroke-width="4.57" stroke-dasharray="4.57 7.54" stroke-dashoffset="11.94"/>
<path d="M277.49 25.98 L277.93 26.11 L278.37 26.36 L278.81 26.71 L279.24 27.15 L279.68 27.67 L280.12 28.24 L280.56 28.85 L281.00 29.50 L281.44 30.15 L281.88 30.95 L282.31 31.94 L282.75 33.08 L283.19 34.37 L283.63 35.77 L284.07 37.27 L284.51 38.85 L284.95 40.47 L285.38 42.13 L285.82 43.79 L286.26 45.46 L286.70 47.22 L287.14 49.06 L287.58 50.98 L288.02 52.99 L288.45 55.08 L288.89 57.24 L289.33 59.48 L289.77 61.79 L290.21 64.17 L290.65 66.61 L291.09 69.12 L291.52 71.77 L291.96 74.56 L292.40 77.50 L292.84 80.55 L293.28 83.70 L293.72 86.93 L294.16 90.22 L294.59 93.56 L295.03 96.92 L295.47 100.28 L295.91 103.71 L296.35 107.26 L296.79 110.92 L297.23 114.67 L297.66 118.45 L298.10 122.29 L298.54 126.20 L298.98 130.22 L299.42 134.37 L299.86 138.67 L300.30 143.17 L300.73 147.98 L301.17 153.06 L301.61 158.32 L302.05 163.69 L302.49 169.11 L302.93 174.49 L303.37 179.77 L303.80 184.86 L304.24 189.69 L304.68 194.36 L305.12 198.93 L305.56 203.40 L306.00 207.80 L306.44 212.14 L306.87 216.44 L307.31 220.70 L307.75 224.93 L308.19 229.03 L308.63 233.02 L309.07 236.97 L309.51 240.94 L309.94 245.02 L310.38 249.27 L310.82 253.76 L311.26 258.48 L311.70 263.39 L312.14 268.42 L312.58 273.54 L313.01 278.70 L313.45 283.84 L313.89 288.92 L314.33 293.89 L314.77 298.71 L315.21 303.44 L315.65 308.19 L316.08 312.97 L316.52 317.74 L316.96 322.50 L317.40 327.22 L317.84 331.91 L318.28 336.54 L318.72 341.10 L319.15 345.57 L319.59 349.94 L320.03 354.20 L320.47 358.33 L320.91 362.31 L321.35 366.14 L321.79 369.80 L322.22 373.36 L322.66 376.87 L323.10 380.31 L323.54 383.67 L323.98 386.92 L324.42 390.05 L324.86 393.05 L325.29 395.89 L325.73 398.56 L326.17 401.04 L326.61 403.32 L327.05 405.31 L327.49 407.05 L327.93 408.64 L328.36 410.21 L328.80 411.86 L329.24 413.73 L329.68 415.94 L330.12 418.65 L330.56 421.62 L331.00 424.54 L331.43 427.12 L331.87 429.37 L332.31 431.45 L332.75 433.42 L333.19 435.36 L333.63 437.32 L334.07 439.36 L334.51 441.52 L334.94 443.75 L335.38 445.94 L335.82 448.00 L336.26 449.83 L336.70 451.43 L337.14 452.98 L337.58 454.49 L338.01 455.94 L338.45 457.28 L338.89 458.51 L339.33 459.59 L339.77 460.49 L340.21 461.18 L340.65 461.72 L341.08 462.24 L341.52 462.73 L341.96 463.18 L342.40 463.58 L342.84 463.92 L343.28 464.19 L343.72 464.38 L344.15 464.48 L344.59 464.48 L345.03 464.47 L345.47 464.44 L345.91 464.41 L346.35 464.36 L346.79 464.30 L347.22 464.23 L347.66 464.15 L348.10 464.06 L348.54 463.96 L348.98 463.86 L349.42 463.74 L349.86 463.53 L350.29 463.23 L350.73 462.85 L351.17 462.42 L351.61 461.94 L352.05 461.43 L352.49 460.91 L352.93 460.37 L353.36 459.85 L353.80 459.32 L354.24 458.76 L354.68 458.15 L355.12 457.52 L355.56 456.85 L356.00 456.17 L356.43 455.47 L356.87 454.76 L357.31 454.04 L357.75 453.30 L358.19 452.53 L358.63 451.75 L359.07 450.94 L359.50 450.12 L359.94 449.29 L360.38 448.44 L360.82 447.59 L361.26 446.73 L361.70 445.87 L362.14 445.01 L362.57 444.16 L363.01 443.30 L363.45 442.45 L363.89 441.57 L364.33 440.67 L364.77 439.76 L365.21 438.84 L365.64 437.93 L366.08 437.02 L366.52 436.12 L366.96 435.24 L367.40 434.38 L367.84 433.55 L368.28 432.76 L368.71 432.00 L369.15 431.25 L369.59 430.51 L370.03 429.77 L370.47 429.05 L370.91 428.34 L371.35 427.64 L371.78 426.96 L372.22 426.29 L372.66 425.64 L373.10 425.01 L373.54 424.41 L373.98 423.82 L374.42 423.26 L374.85 422.72 L375.29 422.21 L375.73 421.71 L376.17 421.22 L376.61 420.72 L377.05 420.25 L377.49 419.79 L377.92 419.35 L378.36 418.94 L378.80 418.57 L379.24 418.24 L379.68 417.96 L380.12 417.73 L380.56 417.53 L380.99 417.33 L381.43 417.14 L381.87 416.95 L382.31 416.79 L382.75 416.64 L383.19 416.51 L383.63 416.41 L384.06 416.34 L384.50 416.30 L384.94 416.30 L385.38 416.34 L385.82 416.42 L386.26 416.54 L386.70 416.69 L387.13 416.86 L387.57 417.05 L388.01 417.27 L388.45 417.49 L388.89 417.72 L389.33 417.95 L389.77 418.18 L390.20 418.43 L390.64 418.71 L391.08 419.02 L391.52 419.36 L391.96 419.72 L392.40 420.11 L392.84 420.51 L393.27 420.93 L393.71 421.35 L394.15 421.78 L394.59 422.22 L395.03 422.66 L395.47 423.12 L395.91 423.60 L396.34 424.10 L396.78 424.61 L397.22 425.13 L397.66 425.67 L398.10 426.22 L398.54 426.78 L398.98 427.36 L399.41 427.94 L399.85 428.53 L400.29 429.13 L400.73 429.74 L401.17 430.35 L401.61 430.96 L402.05 431.58 L402.48 432.21 L402.92 432.86 L403.36 433.53 L403.80 434.22 L404.24 434.93 L404.68 435.64 L405.12 436.36 L405.55 437.10 L405.99 437.83 L406.43 438.56 L406.87 439.29 L407.31 440.02 L407.75 440.73 L408.19 441.44 L408.62 442.13 L409.06 442.82 L409.50 443.51 L409.94 444.20 L410.38 444.90 L410.82 445.59 L411.26 446.28 L411.69 446.96 L412.13 447.64 L412.57 448.32 L413.01 448.99 L413.45 449.65 L413.89 450.30 L414.33 450.94 L414.76 451.58 L415.20 452.19 L415.64 452.80 L416.08 453.40 L416.52 453.99 L416.96 454.58 L417.40 455.16 L417.83 455.73 L418.27 456.30 L418.71 456.86 L419.15 457.42 L419.59 457.97 L420.03 458.51 L420.47 459.05 L420.90 459.58 L421.34 460.10 L421.78 460.62 L422.22 461.13 L422.66 461.63 L423.10 462.12 L423.54 462.61 L423.97 463.10 L424.41 463.59 L424.85 464.08 L425.29 464.56 L425.73 465.04 L426.17 465.52 L426.61 465.99 L427.04 466.45 L427.48 466.91 L427.92 467.35 L428.36 467.79 L428.80 468.21 L429.24 468.62 L429.68 469.01 L430.11 469.39 L430.55 469.75 L430.99 470.09 L431.43 470.42 L431.87 470.74 L432.31 471.06 L432.75 471.38 L433.18 471.69 L433.62 471.98 L434.06 472.27 L434.50 472.53 L434.94 472.78 L435.38 473.00 L435.82 473.20 L436.25 473.38 L436.69 473.52 L437.13 473.66 L437.57 473.80 L438.01 473.93 L438.45 474.06 L438.89 474.17 L439.33 474.28 L439.76 474.38 L440.20 474.47 L440.64 474.55 L441.08 474.61 L441.52 474.65 L441.96 474.68 L442.40 474.70 L442.83 474.71 L443.27 474.72 L443.71 474.73 L444.15 474.74 L444.59 474.75 L445.03 474.76 L445.47 474.76 L445.90 474.77 L446.34 474.77 L446.78 474.78 L447.22 474.78 L447.66 474.78 L448.10 474.78 L448.54 474.78 L448.97 474.77 L449.41 474.75 L449.85 474.72 L450.29 474.69 L450.73 474.66 L451.17 474.62 L451.61 474.58 L452.04 474.53 L452.48 474.49 L452.92 474.44 L453.36 474.39 L453.80 474.35 L454.24 474.30 L454.68 474.25 L455.11 474.19 L455.55 474.13 L455.99 474.06 L456.43 473.99 L456.87 473.92 L457.31 473.84 L457.75 473.76 L458.18 473.68 L458.62 473.59 L459.06 473.50 L459.50 473.41 L459.94 473.32 L460.38 473.23 L460.82 473.14 L461.25 473.04 L461.69 472.93 L462.13 472.82 L462.57 472.71 L463.01 472.59 L463.45 472.46 L463.89 472.34 L464.32 472.21 L464.76 472.08 L465.20 471.96 L465.64 471.83 L466.08 471.71 L466.52 471.59 L466.96 471.48 L467.39 471.36 L467.83 471.25 L468.27 471.14 L468.71 471.03 L469.15 470.92 L469.59 470.80 L470.03 470.69 L470.46 470.58 L470.90 470.47 L471.34 470.36 L471.78 470.24 L472.22 470.13 L472.66 470.01 L473.10 469.89 L473.53 469.78 L473.97 469.66 L474.41 469.54 L474.85 469.42 L475.29 469.30 L475.73 469.18 L476.17 469.06" stroke="#2ca02c" stroke-width="4.57" stroke-dasharray="4.57 7.54" stroke-dashoffset="10.08"/>
<path d="M81.88 475.27 L82.32 475.27 L82.76 475.27 L83.20 475.27 L83.64 475.27 L84.08 475.27 L84.52 475.27 L84.95 475.27 L85.39 475.27 L85.83 475.27 L86.27 475.27 L86.71 475.26 L87.15 475.26 L87.59 475.26 L88.02 475.26 L88.46 475.26 L88.90 475.26 L89.34 475.26 L89.78 475.26 L90.22 475.26 L90.66 475.26 L91.09 475.26 L91.53 475.26 L91.97 475.26 L92.41 475.25 L92.85 475.25 L93.29 475.25 L93.73 475.25 L94.16 475.25 L94.60 475.25 L95.04 475.25 L95.48 475.25 L95.92 475.25 L96.36 475.25 L96.80 475.25 L97.23 475.24 L97.67 475.24 L98.11 475.24 L98.55 475.24 L98.99 475.24 L99.43 475.24 L99.87 475.24 L100.30 475.24 L100.74 475.23 L101.18 475.23 L101.62 475.23 L102.06 475.23 L102.50 475.23 L102.94 475.23 L103.37 475.23 L103.81 475.22 L104.25 475.22 L104.69 475.22 L105.13 475.22 L105.57 475.21 L106.01 475.21 L106.44 475.20 L106.88 475.20 L107.32 475.19 L107.76 475.19 L108.20 475.18 L108.64 475.18 L109.08 475.17 L109.51 475.17 L109.95 475.16 L110.39 475.16 L110.83 475.15 L111.27 475.15 L111.71 475.14 L112.15 475.13 L112.58 475.13 L113.02 475.12 L113.46 475.12 L113.90 475.11 L114.34 475.11 L114.78 475.10 L115.22 475.09 L115.65 475.09 L116.09 475.08 L116.53 475.08 L116.97 475.08 L117.41 475.07 L117.85 475.07 L118.29 475.06 L118.72 475.06 L119.16 475.06 L119.60 475.06 L120.04 475.05 L120.48 475.05 L120.92 475.05 L121.36 475.05 L121.80 475.05 L122.23 475.05 L122.67 475.05 L123.11 475.05 L123.55 475.05 L123.99 475.05 L124.43 475.05 L124.87 475.05 L125.30 475.05 L125.74 475.05 L126.18 475.05 L126.62 475.05 L127.06 475.05 L127.50 475.05 L127.94 475.05 L128.37 475.05 L128.81 475.05 L129.25 475.05 L129.69 475.05 L130.13 475.05 L130.57 475.05 L131.01 475.05 L131.44 475.05 L131.88 475.05 L132.32 475.05 L132.76 475.05 L133.20 475.05 L133.64 475.05 L134.08 475.05 L134.51 475.05 L134.95 475.05 L135.39 475.05 L135.83 475.05 L136.27 475.05 L136.71 475.05 L137.15 475.05 L137.58 475.05 L138.02 475.05 L138.46 475.05 L138.90 475.05 L139.34 475.05 L139.78 475.05 L140.22 475.05 L140.65 475.05 L141.09 475.05 L141.53 475.05 L141.97 475.05 L142.41 475.05 L142.85 475.05 L143.29 475.05 L143.72 475.05 L144.16 475.04 L144.60 475.03 L145.04 475.02 L145.48 475.00 L145.92 474.99 L146.36 474.97 L146.79 474.95 L147.23 474.92 L147.67 474.90 L148.11 474.87 L148.55 474.84 L148.99 474.82 L149.43 474.79 L149.86 474.76 L150.30 474.72 L150.74 474.69 L151.18 474.66 L151.62 474.62 L152.06 474.58 L152.50 474.53 L152.93 474.48 L153.37 474.42 L153.81 474.36 L154.25 474.30 L154.69 474.23 L155.13 474.16 L155.57 474.09 L156.00 474.02 L156.44 473.94 L156.88 473.86 L157.32 473.78 L157.76 473.70 L158.20 473.61 L158.64 473.53 L159.07 473.44 L159.51 473.35 L159.95 473.26 L160.39 473.16 L160.83 473.06 L161.27 472.95 L161.71 472.84 L162.14 472.72 L162.58 472.60 L163.02 472.48 L163.46 472.35 L163.90 472.22 L164.34 472.09 L164.78 471.95 L165.21 471.80 L165.65 471.66 L166.09 471.51 L166.53 471.35 L166.97 471.18 L167.41 471.00 L167.85 470.81 L168.28 470.60 L168.72 470.39 L169.16 470.17 L169.60 469.95 L170.04 469.73 L170.48 469.50 L170.92 469.28 L171.35 469.06 L171.79 468.85 L172.23 468.65 L172.67 468.45 L173.11 468.27 L173.55 468.09 L173.99 467.91 L174.42 467.73 L174.86 467.56 L175.30 467.38 L175.74 467.21 L176.18 467.05 L176.62 466.88 L177.06 466.72 L177.49 466.56 L177.93 466.41 L178.37 466.27 L178.81 466.12 L179.25 465.99 L179.69 465.86 L180.13 465.73 L180.56 465.60 L181.00 465.46 L181.44 465.33 L181.88 465.19 L182.32 465.06 L182.76 464.93 L183.20 464.82 L183.63 464.72 L184.07 464.63 L184.51 464.56 L184.95 464.51 L185.39 464.49 L185.83 464.49 L186.27 464.52 L186.70 464.57 L187.14 464.64 L187.58 464.72 L188.02 464.82 L188.46 464.94 L188.90 465.06 L189.34 465.19 L189.77 465.33 L190.21 465.47 L190.65 465.61 L191.09 465.75 L191.53 465.88 L191.97 466.02 L192.41 466.17 L192.84 466.33 L193.28 466.50 L193.72 466.68 L194.16 466.87 L194.60 467.06 L195.04 467.26 L195.48 467.46 L195.91 467.67 L196.35 467.89 L196.79 468.11 L197.23 468.34 L197.67 468.58 L198.11 468.84 L198.55 469.12 L198.98 469.41 L199.42 469.72 L199.86 470.03 L200.30 470.35 L200.74 470.67 L201.18 470.99 L201.62 471.31 L202.05 471.62 L202.49 471.92 L202.93 472.21 L203.37 472.48 L203.81 472.73 L204.25 472.97 L204.69 473.23 L205.12 473.50 L205.56 473.77 L206.00 474.03 L206.44 474.29 L206.88 474.54 L207.32 474.76 L207.76 474.96 L208.19 475.12 L208.63 475.25 L209.07 475.33 L209.51 475.36 L209.95 475.35 L210.39 475.30 L210.83 475.22 L211.26 475.12 L211.70 475.00 L212.14 474.85 L212.58 474.69 L213.02 474.52 L213.46 474.35 L213.90 474.16 L214.33 473.96 L214.77 473.70 L215.21 473.40 L215.65 473.06 L216.09 472.68 L216.53 472.27 L216.97 471.84 L217.40 471.38 L217.84 470.91 L218.28 470.42 L218.72 469.91 L219.16 469.34 L219.60 468.72 L220.04 468.06 L220.47 467.34 L220.91 466.58 L221.35 465.78 L221.79 464.94 L222.23 464.03 L222.67 463.05 L223.11 462.01 L223.54 460.90 L223.98 459.74 L224.42 458.52 L224.86 457.24 L225.30 455.91 L225.74 454.54 L226.18 453.11 L226.62 451.60 L227.05 449.99 L227.49 448.27 L227.93 446.47 L228.37 444.59 L228.81 442.63 L229.25 440.59 L229.69 438.50 L230.12 436.34 L230.56 434.08 L231.00 431.71 L231.44 429.24 L231.88 426.68 L232.32 424.04 L232.76 421.31 L233.19 418.52 L233.63 415.67 L234.07 412.76 L234.51 409.81 L234.95 406.82 L235.39 403.79 L235.83 400.72 L236.26 397.60 L236.70 394.41 L237.14 391.14 L237.58 387.78 L238.02 384.32 L238.46 380.74 L238.90 377.03 L239.33 373.19 L239.77 369.19 L240.21 365.03 L240.65 360.45 L241.09 355.40 L241.53 350.09 L241.97 344.71 L242.40 339.46 L242.84 334.40 L243.28 329.33 L243.72 324.26 L244.16 319.21 L244.60 314.19 L245.04 309.23 L245.47 304.33 L245.91 299.51 L246.35 294.80 L246.79 290.21 L247.23 285.69 L247.67 281.24 L248.11 276.82 L248.54 272.40 L248.98 267.97 L249.42 263.49 L249.86 258.94 L250.30 254.29 L250.74 249.55 L251.18 244.75 L251.61 239.91 L252.05 235.02 L252.49 230.10 L252.93 225.14 L253.37 220.14 L253.81 215.12 L254.25 210.07 L254.68 204.99 L255.12 199.89 L255.56 194.77 L256.00 189.63 L256.44 184.48 L256.88 179.32 L257.32 174.15 L257.75 168.91 L258.19 163.48 L258.63 157.92 L259.07 152.27 L259.51 146.56 L259.95 140.84 L260.39 135.15 L260.82 129.54 L261.26 124.04 L261.70 118.71 L262.14 113.57 L262.58 108.67 L263.02 104.06 L263.46 99.77 L263.89 95.73 L264.33 91.86 L264.77 88.15 L265.21 84.58 L265.65 81.15 L266.09 77.83 L266.53 74.61 L266.96 71.47 L267.40 68.40 L267.84 65.37 L268.28 62.39 L268.72 59.47 L269.16 56.64 L269.60 53.93 L270.03 51.34 L270.47 48.91 L270.91 46.66 L271.35 44.56 L271.79 42.50 L272.23 40.47 L272.67 38.52 L273.10 36.68 L273.54 34.99 L273.98 33.47 L274.42 32.17 L274.86 31.13 L275.30 30.28 L275.74 29.45 L276.17 28.67 L276.61 27.94 L277.05 27.30 L277.49 26.76 L277.93 26.34 L278.37 26.07 L278.81 25.97" stroke="#808080" stroke-width="3.43" stroke-dasharray="21.95 5.49 3.43 5.49" stroke-dashoffset="32.97"/>
<path d="M278.81 25.97 L279.24 26.05 L279.68 26.30 L280.12 26.70 L280.56 27.23 L281.00 27.86 L281.44 28.58 L281.88 29.36 L282.31 30.18 L282.75 31.02 L283.19 32.04 L283.63 33.31 L284.07 34.80 L284.51 36.47 L284.95 38.30 L285.38 40.23 L285.82 42.25 L286.26 44.32 L286.70 46.40 L287.14 48.64 L287.58 51.05 L288.02 53.61 L288.45 56.31 L288.89 59.13 L289.33 62.04 L289.77 65.01 L290.21 68.04 L290.65 71.10 L291.09 74.23 L291.52 77.44 L291.96 80.75 L292.40 84.17 L292.84 87.72 L293.28 91.41 L293.72 95.26 L294.16 99.28 L294.59 103.54 L295.03 108.11 L295.47 112.97 L295.91 118.09 L296.35 123.40 L296.79 128.88 L297.23 134.48 L297.66 140.16 L298.10 145.88 L298.54 151.59 L298.98 157.26 L299.42 162.83 L299.86 168.27 L300.30 173.54 L300.73 178.71 L301.17 183.87 L301.61 189.02 L302.05 194.16 L302.49 199.28 L302.93 204.38 L303.37 209.46 L303.80 214.52 L304.24 219.55 L304.68 224.55 L305.12 229.51 L305.56 234.44 L306.00 239.33 L306.44 244.18 L306.87 248.98 L307.31 253.74 L307.75 258.40 L308.19 262.96 L308.63 267.44 L309.07 271.88 L309.51 276.29 L309.94 280.71 L310.38 285.16 L310.82 289.67 L311.26 294.25 L311.70 298.95 L312.14 303.75 L312.58 308.64 L313.01 313.60 L313.45 318.61 L313.89 323.66 L314.33 328.73 L314.77 333.80 L315.21 338.86 L315.65 344.08 L316.08 349.45 L316.52 354.78 L316.96 359.87 L317.40 364.52 L317.84 368.71 L318.28 372.72 L318.72 376.59 L319.15 380.31 L319.59 383.90 L320.03 387.38 L320.47 390.75 L320.91 394.03 L321.35 397.23 L321.79 400.36 L322.22 403.43 L322.66 406.46 L323.10 409.46 L323.54 412.42 L323.98 415.33 L324.42 418.19 L324.86 420.99 L325.29 423.72 L325.73 426.37 L326.17 428.94 L326.61 431.42 L327.05 433.80 L327.49 436.08 L327.93 438.24 L328.36 440.31 L328.80 442.29 L329.24 444.20 L329.68 446.03 L330.12 447.81 L330.56 449.54 L331.00 451.22 L331.43 452.87 L331.87 454.51 L332.31 456.14 L332.75 457.76 L333.19 459.34 L333.63 460.86 L334.07 462.29 L334.51 463.62 L334.94 464.82 L335.38 465.89 L335.82 466.89 L336.26 467.82 L336.70 468.67 L337.14 469.45 L337.58 470.14 L338.01 470.76 L338.45 471.37 L338.89 471.95 L339.33 472.49 L339.77 472.99 L340.21 473.42 L340.65 473.79 L341.08 474.08 L341.52 474.29 L341.96 474.49 L342.40 474.68 L342.84 474.86 L343.28 475.02 L343.72 475.15 L344.15 475.25 L344.59 475.32 L345.03 475.36 L345.47 475.36 L345.91 475.30 L346.35 475.19 L346.79 475.05 L347.22 474.87 L347.66 474.65 L348.10 474.42 L348.54 474.17 L348.98 473.90 L349.42 473.63 L349.86 473.36 L350.29 473.10 L350.73 472.85 L351.17 472.61 L351.61 472.35 L352.05 472.07 L352.49 471.77 L352.93 471.47 L353.36 471.15 L353.80 470.83 L354.24 470.51 L354.68 470.19 L355.12 469.88 L355.56 469.57 L356.00 469.27 L356.43 468.98 L356.87 468.71 L357.31 468.46 L357.75 468.23 L358.19 468.00 L358.63 467.78 L359.07 467.57 L359.50 467.36 L359.94 467.16 L360.38 466.96 L360.82 466.77 L361.26 466.59 L361.70 466.42 L362.14 466.25 L362.57 466.10 L363.01 465.95 L363.45 465.82 L363.89 465.68 L364.33 465.54 L364.77 465.40 L365.21 465.26 L365.64 465.13 L366.08 465.00 L366.52 464.88 L366.96 464.77 L367.40 464.68 L367.84 464.60 L368.28 464.54 L368.71 464.50 L369.15 464.49 L369.59 464.50 L370.03 464.53 L370.47 464.59 L370.91 464.67 L371.35 464.77 L371.78 464.87 L372.22 464.99 L372.66 465.12 L373.10 465.26 L373.54 465.39 L373.98 465.53 L374.42 465.67 L374.85 465.80 L375.29 465.92 L375.73 466.06 L376.17 466.19 L376.61 466.34 L377.05 466.49 L377.49 466.64 L377.92 466.80 L378.36 466.96 L378.80 467.13 L379.24 467.30 L379.68 467.47 L380.12 467.64 L380.56 467.82 L380.99 468.00 L381.43 468.18 L381.87 468.36 L382.31 468.55 L382.75 468.75 L383.19 468.95 L383.63 469.17 L384.06 469.39 L384.50 469.61 L384.94 469.84 L385.38 470.06 L385.82 470.28 L386.26 470.49 L386.70 470.70 L387.13 470.90 L387.57 471.09 L388.01 471.27 L388.45 471.43 L388.89 471.58 L389.33 471.73 L389.77 471.87 L390.20 472.02 L390.64 472.15 L391.08 472.29 L391.52 472.42 L391.96 472.54 L392.40 472.66 L392.84 472.78 L393.27 472.89 L393.71 473.00 L394.15 473.11 L394.59 473.21 L395.03 473.31 L395.47 473.40 L395.91 473.49 L396.34 473.57 L396.78 473.66 L397.22 473.74 L397.66 473.82 L398.10 473.90 L398.54 473.98 L398.98 474.05 L399.41 474.13 L399.85 474.20 L400.29 474.27 L400.73 474.33 L401.17 474.39 L401.61 474.45 L402.05 474.51 L402.48 474.56 L402.92 474.60 L403.36 474.64 L403.80 474.68 L404.24 474.71 L404.68 474.74 L405.12 474.77 L405.55 474.80 L405.99 474.83 L406.43 474.86 L406.87 474.88 L407.31 474.91 L407.75 474.93 L408.19 474.96 L408.62 474.98 L409.06 475.00 L409.50 475.01 L409.94 475.02 L410.38 475.04 L410.82 475.04 L411.26 475.05 L411.69 475.05 L412.13 475.05 L412.57 475.05 L413.01 475.05 L413.45 475.05 L413.89 475.05 L414.33 475.05 L414.76 475.05 L415.20 475.05 L415.64 475.05 L416.08 475.05 L416.52 475.05 L416.96 475.05 L417.40 475.05 L417.83 475.05 L418.27 475.05 L418.71 475.05 L419.15 475.05 L419.59 475.05 L420.03 475.05 L420.47 475.05 L420.90 475.05 L421.34 475.05 L421.78 475.05 L422.22 475.05 L422.66 475.05 L423.10 475.05 L423.54 475.05 L423.97 475.05 L424.41 475.05 L424.85 475.05 L425.29 475.05 L425.73 475.05 L426.17 475.05 L426.61 475.05 L427.04 475.05 L427.48 475.05 L427.92 475.05 L428.36 475.05 L428.80 475.05 L429.24 475.05 L429.68 475.05 L430.11 475.05 L430.55 475.05 L430.99 475.05 L431.43 475.05 L431.87 475.05 L432.31 475.05 L432.75 475.05 L433.18 475.05 L433.62 475.05 L434.06 475.05 L434.50 475.05 L434.94 475.06 L435.38 475.06 L435.82 475.06 L436.25 475.06 L436.69 475.07 L437.13 475.07 L437.57 475.07 L438.01 475.08 L438.45 475.08 L438.89 475.09 L439.33 475.09 L439.76 475.10 L440.20 475.10 L440.64 475.11 L441.08 475.11 L441.52 475.12 L441.96 475.12 L442.40 475.13 L442.83 475.14 L443.27 475.14 L443.71 475.15 L444.15 475.15 L444.59 475.16 L445.03 475.17 L445.47 475.17 L445.90 475.18 L446.34 475.18 L446.78 475.19 L447.22 475.19 L447.66 475.20 L448.10 475.20 L448.54 475.21 L448.97 475.21 L449.41 475.21 L449.85 475.22 L450.29 475.22 L450.73 475.22 L451.17 475.23 L451.61 475.23 L452.04 475.23 L452.48 475.23 L452.92 475.23 L453.36 475.23 L453.80 475.23 L454.24 475.24 L454.68 475.24 L455.11 475.24 L455.55 475.24 L455.99 475.24 L456.43 475.24 L456.87 475.24 L457.31 475.24 L457.75 475.24 L458.18 475.25 L458.62 475.25 L459.06 475.25 L459.50 475.25 L459.94 475.25 L460.38 475.25 L460.82 475.25 L461.25 475.25 L461.69 475.25 L462.13 475.25 L462.57 475.26 L463.01 475.26 L463.45 475.26 L463.89 475.26 L464.32 475.26 L464.76 475.26 L465.20 475.26 L465.64 475.26 L466.08 475.26 L466.52 475.26 L466.96 475.26 L467.39 475.26 L467.83 475.26 L468.27 475.27 L468.71 475.27 L469.15 475.27 L469.59 475.27 L470.03 475.27 L470.46 475.27 L470.90 475.27 L471.34 475.27 L471.78 475.27 L472.22 475.27 L472.66 475.27 L473.10 475.27 L473.53 475.27 L473.97 475.27 L474.41 475.27 L474.85 475.27 L475.29 475.27 L475.73 475.27 L476.17 475.27" stroke="#808080" stroke-width="3.43" stroke-dasharray="21.95 5.49 3.43 5.49" stroke-dashoffset="14.54"/>
</g>
<rect x="85.75" y="3.25" width="386.55" height="494.55" fill="none" stroke="#000" stroke-width="1.0"/>
<line x1="85.75" x2="85.75" y1="497.8" y2="502.0" stroke="#000" stroke-width="1.0"/>
<text x="85.75" y="526.2" text-anchor="middle">−100</text>
<line x1="182.39" x2="182.39" y1="497.8" y2="502.0" stroke="#000" stroke-width="1.0"/>
<text x="182.39" y="526.2" text-anchor="middle">−50</text>
<line x1="279.02" x2="279.02" y1="497.8" y2="502.0" stroke="#000" stroke-width="1.0"/>
<text x="279.02" y="526.2" text-anchor="middle">0</text>
<line x1="375.66" x2="375.66" y1="497.8" y2="502.0" stroke="#000" stroke-width="1.0"/>
<text x="375.66" y="526.2" text-anchor="middle">50</text>
<line x1="472.30" x2="472.30" y1="497.8" y2="502.0" stroke="#000" stroke-width="1.0"/>
<text x="472.30" y="526.2" text-anchor="middle">100</text>
<line x1="81.55" x2="85.75" y1="475.50" y2="475.50" stroke="#000" stroke-width="1.0"/>
<text x="77.55" y="485.90" text-anchor="end">0.0</text>
<line x1="81.55" x2="85.75" y1="385.53" y2="385.53" stroke="#000" stroke-width="1.0"/>
<text x="77.55" y="395.93" text-anchor="end">0.2</text>
<line x1="81.55" x2="85.75" y1="295.56" y2="295.56" stroke="#000" stroke-width="1.0"/>
<text x="77.55" y="305.96" text-anchor="end">0.4</text>
<line x1="81.55" x2="85.75" y1="205.59" y2="205.59" stroke="#000" stroke-width="1.0"/>
<text x="77.55" y="215.99" text-anchor="end">0.6</text>
<line x1="81.55" x2="85.75" y1="115.62" y2="115.62" stroke="#000" stroke-width="1.0"/>
<text x="77.55" y="126.02" text-anchor="end">0.8</text>
<line x1="81.55" x2="85.75" y1="25.65" y2="25.65" stroke="#000" stroke-width="1.0"/>
<text x="77.55" y="36.05" text-anchor="end">1.0</text>
<text x="105.0" y="40.6">ΔGVD 0</text>
<text x="105.0" y="70.8">ΔTOD 0</text>
<g clip-path="url(#cr)" fill="none" stroke-linejoin="round">
<path d="M545.43 474.15 L545.87 474.15 L546.31 474.15 L546.75 474.15 L547.19 474.15 L547.63 474.15 L548.06 474.15 L548.50 474.15 L548.94 474.15 L549.38 474.15 L549.82 474.15 L550.26 474.15 L550.70 474.15 L551.14 474.15 L551.58 474.14 L552.02 474.14 L552.45 474.14 L552.89 474.13 L553.33 474.13 L553.77 474.12 L554.21 474.11 L554.65 474.11 L555.09 474.10 L555.53 474.09 L555.97 474.08 L556.41 474.08 L556.85 474.07 L557.28 474.06 L557.72 474.05 L558.16 474.04 L558.60 474.03 L559.04 474.02 L559.48 474.00 L559.92 473.99 L560.36 473.98 L560.80 473.97 L561.24 473.95 L561.67 473.94 L562.11 473.93 L562.55 473.91 L562.99 473.90 L563.43 473.89 L563.87 473.87 L564.31 473.86 L564.75 473.84 L565.19 473.83 L565.63 473.81 L566.06 473.80 L566.50 473.78 L566.94 473.76 L567.38 473.75 L567.82 473.73 L568.26 473.72 L568.70 473.70 L569.14 473.68 L569.58 473.66 L570.02 473.64 L570.46 473.62 L570.89 473.60 L571.33 473.58 L571.77 473.55 L572.21 473.52 L572.65 473.50 L573.09 473.47 L573.53 473.44 L573.97 473.40 L574.41 473.37 L574.85 473.34 L575.28 473.30 L575.72 473.27 L576.16 473.23 L576.60 473.19 L577.04 473.15 L577.48 473.11 L577.92 473.07 L578.36 473.03 L578.80 472.98 L579.24 472.94 L579.67 472.89 L580.11 472.85 L580.55 472.80 L580.99 472.75 L581.43 472.70 L581.87 472.65 L582.31 472.60 L582.75 472.55 L583.19 472.49 L583.63 472.44 L584.07 472.39 L584.50 472.33 L584.94 472.27 L585.38 472.21 L585.82 472.14 L586.26 472.07 L586.70 472.00 L587.14 471.92 L587.58 471.84 L588.02 471.76 L588.46 471.67 L588.89 471.59 L589.33 471.49 L589.77 471.40 L590.21 471.30 L590.65 471.20 L591.09 471.10 L591.53 470.99 L591.97 470.89 L592.41 470.78 L592.85 470.67 L593.28 470.55 L593.72 470.44 L594.16 470.32 L594.60 470.20 L595.04 470.08 L595.48 469.95 L595.92 469.83 L596.36 469.70 L596.80 469.56 L597.24 469.42 L597.68 469.27 L598.11 469.12 L598.55 468.96 L598.99 468.80 L599.43 468.63 L599.87 468.46 L600.31 468.28 L600.75 468.10 L601.19 467.92 L601.63 467.73 L602.07 467.54 L602.50 467.34 L602.94 467.14 L603.38 466.94 L603.82 466.73 L604.26 466.52 L604.70 466.31 L605.14 466.10 L605.58 465.88 L606.02 465.65 L606.46 465.42 L606.89 465.18 L607.33 464.93 L607.77 464.68 L608.21 464.42 L608.65 464.15 L609.09 463.88 L609.53 463.60 L609.97 463.32 L610.41 463.03 L610.85 462.74 L611.29 462.44 L611.72 462.13 L612.16 461.82 L612.60 461.51 L613.04 461.19 L613.48 460.87 L613.92 460.53 L614.36 460.18 L614.80 459.82 L615.24 459.45 L615.68 459.08 L616.11 458.69 L616.55 458.30 L616.99 457.90 L617.43 457.50 L617.87 457.10 L618.31 456.69 L618.75 456.28 L619.19 455.87 L619.63 455.45 L620.07 455.04 L620.50 454.64 L620.94 454.23 L621.38 453.82 L621.82 453.40 L622.26 452.99 L622.70 452.57 L623.14 452.15 L623.58 451.73 L624.02 451.31 L624.46 450.88 L624.90 450.44 L625.33 450.00 L625.77 449.56 L626.21 449.11 L626.65 448.66 L627.09 448.20 L627.53 447.73 L627.97 447.26 L628.41 446.78 L628.85 446.30 L629.29 445.81 L629.72 445.31 L630.16 444.81 L630.60 444.30 L631.04 443.78 L631.48 443.26 L631.92 442.73 L632.36 442.19 L632.80 441.65 L633.24 441.11 L633.68 440.55 L634.11 439.99 L634.55 439.43 L634.99 438.85 L635.43 438.28 L635.87 437.69 L636.31 437.10 L636.75 436.49 L637.19 435.88 L637.63 435.26 L638.07 434.64 L638.51 434.00 L638.94 433.36 L639.38 432.71 L639.82 432.06 L640.26 431.40 L640.70 430.74 L641.14 430.06 L641.58 429.39 L642.02 428.71 L642.46 428.02 L642.90 427.33 L643.33 426.63 L643.77 425.93 L644.21 425.23 L644.65 424.52 L645.09 423.80 L645.53 423.07 L645.97 422.34 L646.41 421.60 L646.85 420.85 L647.29 420.10 L647.72 419.34 L648.16 418.57 L648.60 417.79 L649.04 417.01 L649.48 416.22 L649.92 415.41 L650.36 414.60 L650.80 413.78 L651.24 412.95 L651.68 412.10 L652.12 411.24 L652.55 410.36 L652.99 409.48 L653.43 408.59 L653.87 407.69 L654.31 406.78 L654.75 405.86 L655.19 404.94 L655.63 404.01 L656.07 403.08 L656.51 402.15 L656.94 401.21 L657.38 400.27 L657.82 399.34 L658.26 398.39 L658.70 397.45 L659.14 396.49 L659.58 395.53 L660.02 394.55 L660.46 393.56 L660.90 392.55 L661.33 391.53 L661.77 390.48 L662.21 389.41 L662.65 388.32 L663.09 387.21 L663.53 386.10 L663.97 384.97 L664.41 383.83 L664.85 382.68 L665.29 381.52 L665.73 380.34 L666.16 379.14 L666.60 377.92 L667.04 376.68 L667.48 375.43 L667.92 374.15 L668.36 372.84 L668.80 371.51 L669.24 370.16 L669.68 368.78 L670.12 367.37 L670.55 365.92 L670.99 364.45 L671.43 362.94 L671.87 361.38 L672.31 359.76 L672.75 358.07 L673.19 356.34 L673.63 354.55 L674.07 352.72 L674.51 350.84 L674.94 348.94 L675.38 347.00 L675.82 345.03 L676.26 343.05 L676.70 341.05 L677.14 339.03 L677.58 337.01 L678.02 334.98 L678.46 332.92 L678.90 330.82 L679.33 328.69 L679.77 326.53 L680.21 324.34 L680.65 322.13 L681.09 319.89 L681.53 317.63 L681.97 315.36 L682.41 313.07 L682.85 310.77 L683.29 308.46 L683.73 306.14 L684.16 303.81 L684.60 301.49 L685.04 299.16 L685.48 296.84 L685.92 294.52 L686.36 292.20 L686.80 289.86 L687.24 287.52 L687.68 285.17 L688.12 282.81 L688.55 280.44 L688.99 278.06 L689.43 275.67 L689.87 273.27 L690.31 270.86 L690.75 268.43 L691.19 266.00 L691.63 263.56 L692.07 261.11 L692.51 258.64 L692.94 256.17 L693.38 253.68 L693.82 251.16 L694.26 248.63 L694.70 246.07 L695.14 243.50 L695.58 240.91 L696.02 238.31 L696.46 235.70 L696.90 233.08 L697.34 230.46 L697.77 227.84 L698.21 225.22 L698.65 222.61 L699.09 220.00 L699.53 217.41 L699.97 214.83 L700.41 212.27 L700.85 209.73 L701.29 207.22 L701.73 204.72 L702.16 202.23 L702.60 199.75 L703.04 197.28 L703.48 194.79 L703.92 192.31 L704.36 189.80 L704.80 187.28 L705.24 184.74 L705.68 182.17 L706.12 179.56 L706.55 176.92 L706.99 174.24 L707.43 171.49 L707.87 168.66 L708.31 165.77 L708.75 162.83 L709.19 159.85 L709.63 156.86 L710.07 153.87 L710.51 150.88 L710.95 147.92 L711.38 145.00 L711.82 142.13 L712.26 139.33 L712.70 136.62 L713.14 133.98 L713.58 131.38 L714.02 128.83 L714.46 126.30 L714.90 123.81 L715.34 121.35 L715.77 118.92 L716.21 116.51 L716.65 114.11 L717.09 111.74 L717.53 109.37 L717.97 107.01 L718.41 104.66 L718.85 102.32 L719.29 99.97 L719.73 97.61 L720.16 95.24 L720.60 92.87 L721.04 90.50 L721.48 88.13 L721.92 85.79 L722.36 83.47 L722.80 81.17 L723.24 78.91 L723.68 76.69 L724.12 74.52 L724.56 72.40 L724.99 70.35 L725.43 68.35 L725.87 66.39 L726.31 64.44 L726.75 62.51 L727.19 60.60 L727.63 58.73 L728.07 56.89 L728.51 55.09 L728.95 53.34 L729.38 51.65 L729.82 50.01 L730.26 48.44 L730.70 46.95 L731.14 45.52 L731.58 44.18 L732.02 42.84 L732.46 41.51 L732.90 40.20 L733.34 38.92 L733.77 37.68 L734.21 36.49 L734.65 35.35 L735.09 34.29 L735.53 33.30 L735.97 32.40 L736.41 31.59 L736.85 30.89 L737.29 30.30 L737.73 29.75 L738.17 29.20 L738.60 28.67 L739.04 28.16 L739.48 27.68 L739.92 27.25 L740.36 26.86 L740.80 26.53 L741.24 26.27 L741.68 26.09 L742.12 25.98 L742.56 25.97 L742.99 26.06 L743.43 26.23 L743.87 26.49 L744.31 26.81 L744.75 27.20 L745.19 27.63 L745.63 28.11 L746.07 28.62 L746.51 29.15 L746.95 29.70 L747.38 30.39 L747.82 31.27 L748.26 32.29 L748.70 33.45 L749.14 34.73 L749.58 36.08 L750.02 37.50 L750.46 38.97 L750.90 40.45 L751.34 41.93 L751.78 43.38 L752.21 44.87 L752.65 46.43 L753.09 48.05 L753.53 49.72 L753.97 51.45 L754.41 53.23 L754.85 55.04 L755.29 56.88 L755.73 58.76 L756.17 60.66 L756.60 62.58 L757.04 64.50 L757.48 66.44 L757.92 68.36 L758.36 70.27 L758.80 72.17 L759.24 74.08 L759.68 76.00 L760.12 77.94 L760.56 79.92 L760.99 81.95 L761.43 84.03 L761.87 86.17 L762.31 88.39 L762.75 90.70 L763.19 93.10 L763.63 95.61 L764.07 98.24 L764.51 100.99 L764.95 103.97 L765.39 107.20 L765.82 110.66 L766.26 114.32 L766.70 118.18 L767.14 122.19 L767.58 126.35 L768.02 130.62 L768.46 134.98 L768.90 139.41 L769.34 143.89 L769.78 148.39 L770.21 152.90 L770.65 157.38 L771.09 161.81 L771.53 166.18 L771.97 170.46 L772.41 174.62 L772.85 178.72 L773.29 182.80 L773.73 186.88 L774.17 190.95 L774.60 195.02 L775.04 199.09 L775.48 203.16 L775.92 207.23 L776.36 211.31 L776.80 215.40 L777.24 219.50 L777.68 223.62 L778.12 227.76 L778.56 231.91 L779.00 236.09 L779.43 240.30 L779.87 244.53 L780.31 248.80 L780.75 253.10 L781.19 257.47 L781.63 262.00 L782.07 266.66 L782.51 271.44 L782.95 276.30 L783.39 281.22 L783.82 286.18 L784.26 291.15 L784.70 296.10 L785.14 301.02 L785.58 305.86 L786.02 310.61 L786.46 315.25 L786.90 319.74 L787.34 324.06 L787.78 328.19 L788.21 332.10 L788.65 335.76 L789.09 339.15 L789.53 342.23 L789.97 345.06 L790.41 347.71 L790.85 350.26 L791.29 352.77 L791.73 355.34 L792.17 358.03 L792.61 360.92 L793.04 364.00 L793.48 367.21 L793.92 370.52 L794.36 373.89 L794.80 377.26 L795.24 380.61 L795.68 383.89 L796.12 387.05 L796.56 390.06 L797.00 392.98 L797.43 395.90 L797.87 398.80 L798.31 401.68 L798.75 404.50 L799.19 407.25 L799.63 409.91 L800.07 412.47 L800.51 414.91 L800.95 417.21 L801.39 419.35 L801.82 421.34 L802.26 423.26 L802.70 425.11 L803.14 426.91 L803.58 428.64 L804.02 430.29 L804.46 431.87 L804.90 433.37 L805.34 434.78 L805.78 436.10 L806.22 437.32 L806.65 438.45 L807.09 439.53 L807.53 440.58 L807.97 441.58 L808.41 442.47 L808.85 443.22 L809.29 443.80 L809.73 444.20 L810.17 444.55 L810.61 444.86 L811.04 445.11 L811.48 445.29 L811.92 445.38 L812.36 445.35 L812.80 445.21 L813.24 444.98 L813.68 444.68 L814.12 444.34 L814.56 443.97 L815.00 443.58 L815.43 443.06 L815.87 442.44 L816.31 441.72 L816.75 440.93 L817.19 440.08 L817.63 439.20 L818.07 438.30 L818.51 437.37 L818.95 436.39 L819.39 435.36 L819.82 434.28 L820.26 433.14 L820.70 431.95 L821.14 430.70 L821.58 429.40 L822.02 428.04 L822.46 426.62 L822.90 425.14 L823.34 423.61 L823.78 422.01 L824.22 420.35 L824.65 418.55 L825.09 416.54 L825.53 414.36 L825.97 412.02 L826.41 409.56 L826.85 407.00 L827.29 404.36 L827.73 401.68 L828.17 398.98 L828.61 396.28 L829.04 393.62 L829.48 391.02 L829.92 388.49 L830.36 385.93 L830.80 383.34 L831.24 380.74 L831.68 378.12 L832.12 375.49 L832.56 372.85 L833.00 370.22 L833.43 367.58 L833.87 364.96 L834.31 362.34 L834.75 359.74 L835.19 357.22 L835.63 354.78 L836.07 352.36 L836.51 349.93 L836.95 347.44 L837.39 344.86 L837.83 342.13 L838.26 339.22 L838.70 336.02 L839.14 332.41 L839.58 328.48 L840.02 324.30 L840.46 319.96 L840.90 315.54 L841.34 311.13 L841.78 306.80 L842.22 302.65 L842.65 298.74 L843.09 295.17 L843.53 292.01 L843.97 289.31 L844.41 286.77 L844.85 284.34 L845.29 282.00 L845.73 279.77 L846.17 277.63 L846.61 275.58 L847.04 273.63 L847.48 271.77 L847.92 270.00 L848.36 268.32 L848.80 266.72 L849.24 265.21 L849.68 263.78 L850.12 262.40 L850.56 261.06 L851.00 259.74 L851.44 258.47 L851.87 257.23 L852.31 256.05 L852.75 254.91 L853.19 253.84 L853.63 252.84 L854.07 251.90 L854.51 251.04 L854.95 250.27 L855.39 249.58 L855.83 248.99 L856.26 248.45 L856.70 247.95 L857.14 247.49 L857.58 247.07 L858.02 246.72 L858.46 246.43 L858.90 246.22 L859.34 246.05 L859.78 245.88 L860.22 245.74 L860.65 245.62 L861.09 245.53 L861.53 245.48 L861.97 245.48 L862.41 245.53 L862.85 245.63 L863.29 245.77 L863.73 245.93 L864.17 246.11 L864.61 246.30 L865.05 246.52 L865.48 246.79 L865.92 247.11 L866.36 247.49 L866.80 247.93 L867.24 248.42 L867.68 248.96 L868.12 249.62 L868.56 250.47 L869.00 251.51 L869.44 252.71 L869.87 254.07 L870.31 255.55 L870.75 257.15 L871.19 258.84 L871.63 260.60 L872.07 262.42 L872.51 264.28 L872.95 266.16 L873.39 268.04 L873.83 269.90 L874.26 271.83 L874.70 273.86 L875.14 275.99 L875.58 278.21 L876.02 280.51 L876.46 282.89 L876.90 285.35 L877.34 287.86 L877.78 290.44 L878.22 293.06 L878.66 295.73 L879.09 298.44 L879.53 301.17 L879.97 303.94 L880.41 306.81 L880.85 309.77 L881.29 312.82 L881.73 315.96 L882.17 319.16 L882.61 322.42 L883.05 325.73 L883.48 329.08 L883.92 332.46 L884.36 335.86 L884.80 339.37 L885.24 343.04 L885.68 346.81 L886.12 350.59 L886.56 354.30 L887.00 357.86 L887.44 361.20 L887.87 364.41 L888.31 367.54 L888.75 370.60 L889.19 373.60 L889.63 376.53 L890.07 379.42 L890.51 382.25 L890.95 385.05 L891.39 387.82 L891.83 390.56 L892.27 393.28 L892.70 395.99 L893.14 398.68 L893.58 401.33 L894.02 403.95 L894.46 406.54 L894.90 409.08 L895.34 411.56 L895.78 413.99 L896.22 416.36 L896.66 418.67 L897.09 420.90 L897.53 423.10 L897.97 425.27 L898.41 427.40 L898.85 429.50 L899.29 431.56 L899.73 433.57 L900.17 435.53 L900.61 437.43 L901.05 439.28 L901.48 441.05 L901.92 442.75 L902.36 444.38 L902.80 445.95 L903.24 447.51 L903.68 449.04 L904.12 450.54 L904.56 452.01 L905.00 453.43 L905.44 454.81 L905.88 456.14 L906.31 457.41 L906.75 458.61 L907.19 459.75 L907.63 460.82 L908.07 461.80 L908.51 462.70 L908.95 463.57 L909.39 464.41 L909.83 465.20 L910.27 465.93 L910.70 466.58 L911.14 467.13 L911.58 467.56 L912.02 467.89 L912.46 468.22 L912.90 468.51 L913.34 468.75 L913.78 468.93 L914.22 469.02 L914.66 469.01 L915.09 468.94 L915.53 468.81 L915.97 468.63 L916.41 468.42 L916.85 468.19 L917.29 467.95 L917.73 467.66 L918.17 467.28 L918.61 466.82 L919.05 466.31 L919.49 465.74 L919.92 465.13 L920.36 464.50 L920.80 463.86 L921.24 463.18 L921.68 462.45 L922.12 461.67 L922.56 460.84 L923.00 459.97 L923.44 459.05 L923.88 458.09 L924.31 457.09 L924.75 456.05 L925.19 454.98 L925.63 453.87 L926.07 452.73 L926.51 451.56 L926.95 450.37 L927.39 449.10 L927.83 447.74 L928.27 446.28 L928.70 444.74 L929.14 443.13 L929.58 441.46 L930.02 439.75 L930.46 438.00 L930.90 436.23 L931.34 434.45 L931.78 432.67 L932.22 430.91 L932.66 429.17 L933.10 427.46 L933.53 425.80 L933.97 424.16 L934.41 422.52 L934.85 420.87 L935.29 419.21 L935.73 417.53 L936.17 415.81 L936.61 414.07 L937.05 412.31 L937.49 410.55 L937.92 408.77 L938.36 406.99 L938.80 405.20 L939.24 403.39 L939.68 401.58 L940.12 399.75" stroke="#1f77b4" stroke-width="4.57"/>
<path d="M545.43 471.14 L545.87 471.18 L546.31 471.21 L546.75 471.24 L547.19 471.28 L547.63 471.31 L548.06 471.35 L548.50 471.39 L548.94 471.42 L549.38 471.46 L549.82 471.50 L550.26 471.54 L550.70 471.59 L551.14 471.64 L551.58 471.68 L552.02 471.74 L552.45 471.79 L552.89 471.84 L553.33 471.90 L553.77 471.96 L554.21 472.01 L554.65 472.07 L555.09 472.13 L555.53 472.19 L555.97 472.25 L556.41 472.31 L556.85 472.36 L557.28 472.42 L557.72 472.48 L558.16 472.54 L558.60 472.59 L559.04 472.65 L559.48 472.70 L559.92 472.75 L560.36 472.80 L560.80 472.84 L561.24 472.89 L561.67 472.93 L562.11 472.97 L562.55 473.01 L562.99 473.04 L563.43 473.07 L563.87 473.10 L564.31 473.14 L564.75 473.17 L565.19 473.20 L565.63 473.24 L566.06 473.27 L566.50 473.30 L566.94 473.34 L567.38 473.37 L567.82 473.40 L568.26 473.43 L568.70 473.46 L569.14 473.49 L569.58 473.51 L570.02 473.54 L570.46 473.56 L570.89 473.58 L571.33 473.61 L571.77 473.62 L572.21 473.64 L572.65 473.66 L573.09 473.67 L573.53 473.68 L573.97 473.69 L574.41 473.70 L574.85 473.70 L575.28 473.70 L575.72 473.70 L576.16 473.69 L576.60 473.68 L577.04 473.66 L577.48 473.64 L577.92 473.61 L578.36 473.58 L578.80 473.54 L579.24 473.51 L579.67 473.47 L580.11 473.42 L580.55 473.37 L580.99 473.32 L581.43 473.27 L581.87 473.22 L582.31 473.16 L582.75 473.10 L583.19 473.04 L583.63 472.98 L584.07 472.92 L584.50 472.86 L584.94 472.79 L585.38 472.73 L585.82 472.67 L586.26 472.60 L586.70 472.54 L587.14 472.47 L587.58 472.41 L588.02 472.35 L588.46 472.28 L588.89 472.21 L589.33 472.12 L589.77 472.03 L590.21 471.93 L590.65 471.82 L591.09 471.71 L591.53 471.59 L591.97 471.48 L592.41 471.36 L592.85 471.24 L593.28 471.12 L593.72 471.00 L594.16 470.89 L594.60 470.78 L595.04 470.67 L595.48 470.57 L595.92 470.48 L596.36 470.39 L596.80 470.32 L597.24 470.25 L597.68 470.20 L598.11 470.15 L598.55 470.12 L598.99 470.11 L599.43 470.11 L599.87 470.11 L600.31 470.12 L600.75 470.13 L601.19 470.15 L601.63 470.17 L602.07 470.19 L602.50 470.22 L602.94 470.25 L603.38 470.28 L603.82 470.31 L604.26 470.35 L604.70 470.39 L605.14 470.42 L605.58 470.46 L606.02 470.50 L606.46 470.54 L606.89 470.58 L607.33 470.62 L607.77 470.66 L608.21 470.70 L608.65 470.73 L609.09 470.77 L609.53 470.80 L609.97 470.84 L610.41 470.88 L610.85 470.92 L611.29 470.97 L611.72 471.02 L612.16 471.06 L612.60 471.11 L613.04 471.16 L613.48 471.21 L613.92 471.25 L614.36 471.29 L614.80 471.33 L615.24 471.37 L615.68 471.40 L616.11 471.42 L616.55 471.44 L616.99 471.45 L617.43 471.45 L617.87 471.45 L618.31 471.45 L618.75 471.45 L619.19 471.44 L619.63 471.44 L620.07 471.43 L620.50 471.42 L620.94 471.41 L621.38 471.40 L621.82 471.39 L622.26 471.37 L622.70 471.36 L623.14 471.34 L623.58 471.33 L624.02 471.31 L624.46 471.29 L624.90 471.27 L625.33 471.25 L625.77 471.23 L626.21 471.19 L626.65 471.13 L627.09 471.05 L627.53 470.95 L627.97 470.83 L628.41 470.70 L628.85 470.56 L629.29 470.41 L629.72 470.24 L630.16 470.07 L630.60 469.90 L631.04 469.72 L631.48 469.54 L631.92 469.36 L632.36 469.18 L632.80 469.00 L633.24 468.81 L633.68 468.62 L634.11 468.41 L634.55 468.19 L634.99 467.96 L635.43 467.73 L635.87 467.48 L636.31 467.22 L636.75 466.95 L637.19 466.67 L637.63 466.37 L638.07 466.07 L638.51 465.75 L638.94 465.41 L639.38 465.05 L639.82 464.65 L640.26 464.23 L640.70 463.79 L641.14 463.32 L641.58 462.82 L642.02 462.31 L642.46 461.77 L642.90 461.21 L643.33 460.64 L643.77 460.04 L644.21 459.43 L644.65 458.80 L645.09 458.13 L645.53 457.42 L645.97 456.67 L646.41 455.89 L646.85 455.08 L647.29 454.25 L647.72 453.38 L648.16 452.50 L648.60 451.59 L649.04 450.66 L649.48 449.72 L649.92 448.76 L650.36 447.80 L650.80 446.82 L651.24 445.84 L651.68 444.85 L652.12 443.86 L652.55 442.85 L652.99 441.82 L653.43 440.76 L653.87 439.68 L654.31 438.58 L654.75 437.47 L655.19 436.33 L655.63 435.18 L656.07 434.01 L656.51 432.82 L656.94 431.62 L657.38 430.41 L657.82 429.18 L658.26 427.94 L658.70 426.68 L659.14 425.42 L659.58 424.15 L660.02 422.85 L660.46 421.54 L660.90 420.22 L661.33 418.87 L661.77 417.50 L662.21 416.11 L662.65 414.69 L663.09 413.26 L663.53 411.80 L663.97 410.32 L664.41 408.81 L664.85 407.28 L665.29 405.73 L665.73 404.14 L666.16 402.51 L666.60 400.84 L667.04 399.13 L667.48 397.40 L667.92 395.63 L668.36 393.84 L668.80 392.03 L669.24 390.20 L669.68 388.35 L670.12 386.49 L670.55 384.63 L670.99 382.76 L671.43 380.89 L671.87 378.99 L672.31 377.06 L672.75 375.11 L673.19 373.13 L673.63 371.13 L674.07 369.12 L674.51 367.11 L674.94 365.09 L675.38 363.08 L675.82 361.07 L676.26 359.09 L676.70 357.12 L677.14 355.18 L677.58 353.27 L678.02 351.41 L678.46 349.59 L678.90 347.80 L679.33 346.02 L679.77 344.22 L680.21 342.40 L680.65 340.54 L681.09 338.63 L681.53 336.64 L681.97 334.57 L682.41 332.44 L682.85 330.25 L683.29 328.01 L683.73 325.72 L684.16 323.39 L684.60 321.03 L685.04 318.63 L685.48 316.21 L685.92 313.78 L686.36 311.33 L686.80 308.88 L687.24 306.42 L687.68 303.97 L688.12 301.53 L688.55 299.11 L688.99 296.71 L689.43 294.33 L689.87 291.96 L690.31 289.59 L690.75 287.23 L691.19 284.86 L691.63 282.50 L692.07 280.13 L692.51 277.75 L692.94 275.38 L693.38 272.99 L693.82 270.60 L694.26 268.20 L694.70 265.78 L695.14 263.36 L695.58 260.92 L696.02 258.47 L696.46 256.00 L696.90 253.51 L697.34 251.00 L697.77 248.47 L698.21 245.92 L698.65 243.36 L699.09 240.78 L699.53 238.19 L699.97 235.59 L700.41 232.98 L700.85 230.37 L701.29 227.75 L701.73 225.13 L702.16 222.51 L702.60 219.89 L703.04 217.28 L703.48 214.67 L703.92 212.08 L704.36 209.50 L704.80 206.95 L705.24 204.41 L705.68 201.87 L706.12 199.34 L706.55 196.80 L706.99 194.25 L707.43 191.69 L707.87 189.10 L708.31 186.48 L708.75 183.83 L709.19 181.15 L709.63 178.41 L710.07 175.63 L710.51 172.78 L710.95 169.83 L711.38 166.80 L711.82 163.70 L712.26 160.56 L712.70 157.37 L713.14 154.17 L713.58 150.97 L714.02 147.79 L714.46 144.63 L714.90 141.53 L715.34 138.49 L715.77 135.53 L716.21 132.61 L716.65 129.71 L717.09 126.83 L717.53 123.97 L717.97 121.14 L718.41 118.33 L718.85 115.55 L719.29 112.80 L719.73 110.08 L720.16 107.39 L720.60 104.73 L721.04 102.10 L721.48 99.51 L721.92 96.94 L722.36 94.38 L722.80 91.84 L723.24 89.33 L723.68 86.83 L724.12 84.37 L724.56 81.94 L724.99 79.55 L725.43 77.20 L725.87 74.89 L726.31 72.63 L726.75 70.41 L727.19 68.25 L727.63 66.11 L728.07 63.96 L728.51 61.84 L728.95 59.73 L729.38 57.67 L729.82 55.64 L730.26 53.68 L730.70 51.78 L731.14 49.96 L731.58 48.22 L732.02 46.58 L732.46 45.06 L732.90 43.60 L733.34 42.16 L733.77 40.74 L734.21 39.36 L734.65 38.01 L735.09 36.72 L735.53 35.50 L735.97 34.36 L736.41 33.30 L736.85 32.34 L737.29 31.49 L737.73 30.77 L738.17 30.15 L738.60 29.55 L739.04 28.97 L739.48 28.40 L739.92 27.87 L740.36 27.38 L740.80 26.95 L741.24 26.58 L741.68 26.29 L742.12 26.09 L742.56 25.98" stroke="#d62728" stroke-width="4.57" stroke-dasharray="16.91 7.31" stroke-dashoffset="2.55"/>
<path d="M742.56 25.98 L742.99 25.98 L743.43 26.09 L743.87 26.31 L744.31 26.62 L744.75 27.01 L745.19 27.46 L745.63 27.97 L746.07 28.53 L746.51 29.11 L746.95 29.72 L747.38 30.51 L747.82 31.54 L748.26 32.76 L748.70 34.15 L749.14 35.66 L749.58 37.26 L750.02 38.93 L750.46 40.62 L750.90 42.30 L751.34 43.97 L751.78 45.71 L752.21 47.54 L752.65 49.45 L753.09 51.42 L753.53 53.46 L753.97 55.56 L754.41 57.71 L754.85 59.90 L755.29 62.12 L755.73 64.37 L756.17 66.63 L756.60 68.91 L757.04 71.21 L757.48 73.53 L757.92 75.89 L758.36 78.29 L758.80 80.75 L759.24 83.27 L759.68 85.85 L760.12 88.52 L760.56 91.28 L760.99 94.14 L761.43 97.10 L761.87 100.18 L762.31 103.44 L762.75 106.91 L763.19 110.60 L763.63 114.47 L764.07 118.51 L764.51 122.68 L764.95 126.97 L765.39 131.35 L765.82 135.80 L766.26 140.31 L766.70 144.83 L767.14 149.36 L767.58 153.87 L768.02 158.33 L768.46 162.73 L768.90 167.03 L769.34 171.23 L769.78 175.29 L770.21 179.27 L770.65 183.18 L771.09 187.03 L771.53 190.85 L771.97 194.62 L772.41 198.37 L772.85 202.09 L773.29 205.81 L773.73 209.51 L774.17 213.23 L774.60 216.96 L775.04 220.70 L775.48 224.48 L775.92 228.30 L776.36 232.16 L776.80 236.08 L777.24 240.06 L777.68 244.11 L778.12 248.24 L778.56 252.46 L779.00 256.80 L779.43 261.42 L779.87 266.30 L780.31 271.39 L780.75 276.64 L781.19 282.00 L781.63 287.44 L782.07 292.91 L782.51 298.35 L782.95 303.73 L783.39 309.00 L783.82 314.12 L784.26 319.03 L784.70 323.69 L785.14 328.06 L785.58 332.09 L786.02 335.74 L786.46 338.95 L786.90 341.75 L787.34 344.23 L787.78 346.47 L788.21 348.56 L788.65 350.59 L789.09 352.65 L789.53 354.82 L789.97 357.18 L790.41 359.83 L790.85 362.79 L791.29 365.98 L791.73 369.40 L792.17 373.00 L792.61 376.78 L793.04 380.70 L793.48 384.75 L793.92 388.90 L794.36 393.43 L794.80 398.62 L795.24 403.50 L795.68 407.19 L796.12 410.11 L796.56 412.63 L797.00 414.99 L797.43 417.39 L797.87 420.03 L798.31 422.93 L798.75 425.86 L799.19 428.61 L799.63 431.00 L800.07 433.08 L800.51 434.96 L800.95 436.74 L801.39 438.49 L801.82 440.31 L802.26 442.27 L802.70 444.48 L803.14 447.11 L803.58 449.92 L804.02 452.56 L804.46 454.75 L804.90 456.70 L805.34 458.50 L805.78 460.16 L806.22 461.66 L806.65 463.01 L807.09 464.20 L807.53 465.27 L807.97 466.26 L808.41 467.20 L808.85 468.11 L809.29 469.04 L809.73 469.99 L810.17 470.91 L810.61 471.76 L811.04 472.49 L811.48 473.05 L811.92 473.54 L812.36 474.00 L812.80 474.40 L813.24 474.68 L813.68 474.82 L814.12 474.80 L814.56 474.71 L815.00 474.55 L815.43 474.36 L815.87 474.14 L816.31 473.92 L816.75 473.65 L817.19 473.31 L817.63 472.92 L818.07 472.48 L818.51 472.01 L818.95 471.53 L819.39 471.01 L819.82 470.44 L820.26 469.81 L820.70 469.14 L821.14 468.41 L821.58 467.61 L822.02 466.73 L822.46 465.76 L822.90 464.70 L823.34 463.56 L823.78 462.33 L824.22 460.98 L824.65 459.33 L825.09 457.47 L825.53 455.58 L825.97 453.86 L826.41 452.42 L826.85 451.15 L827.29 449.96 L827.73 448.83 L828.17 447.71 L828.61 446.56 L829.04 445.35 L829.48 444.16 L829.92 442.98 L830.36 441.77 L830.80 440.50 L831.24 439.12 L831.68 437.60 L832.12 435.78 L832.56 433.76 L833.00 431.78 L833.43 429.97 L833.87 428.24 L834.31 426.57 L834.75 424.92 L835.19 423.30 L835.63 421.67 L836.07 420.02 L836.51 418.34 L836.95 416.60 L837.39 414.78 L837.83 412.83 L838.26 410.77 L838.70 408.75 L839.14 406.88 L839.58 405.16 L840.02 403.52 L840.46 401.94 L840.90 400.41 L841.34 398.92 L841.78 397.44 L842.22 395.96 L842.65 394.47 L843.09 392.94 L843.53 391.38 L843.97 389.74 L844.41 388.06 L844.85 386.40 L845.29 384.81 L845.73 383.33 L846.17 381.91 L846.61 380.53 L847.04 379.20 L847.48 377.92 L847.92 376.72 L848.36 375.60 L848.80 374.55 L849.24 373.54 L849.68 372.58 L850.12 371.66 L850.56 370.80 L851.00 370.00 L851.44 369.27 L851.87 368.58 L852.31 367.93 L852.75 367.31 L853.19 366.74 L853.63 366.20 L854.07 365.71 L854.51 365.27 L854.95 364.85 L855.39 364.46 L855.83 364.09 L856.26 363.75 L856.70 363.45 L857.14 363.19 L857.58 362.95 L858.02 362.71 L858.46 362.49 L858.90 362.31 L859.34 362.20 L859.78 362.18 L860.22 362.27 L860.65 362.46 L861.09 362.72 L861.53 363.02 L861.97 363.35 L862.41 363.79 L862.85 364.38 L863.29 365.10 L863.73 365.91 L864.17 366.78 L864.61 367.67 L865.05 368.67 L865.48 369.79 L865.92 371.01 L866.36 372.28 L866.80 373.57 L867.24 374.95 L867.68 376.45 L868.12 378.01 L868.56 379.56 L869.00 381.04 L869.44 382.39 L869.87 383.59 L870.31 384.70 L870.75 385.74 L871.19 386.75 L871.63 387.76 L872.07 388.81 L872.51 389.91 L872.95 391.00 L873.39 392.07 L873.83 393.16 L874.26 394.32 L874.70 395.57 L875.14 396.95 L875.58 398.56 L876.02 400.53 L876.46 402.67 L876.90 404.78 L877.34 406.79 L877.78 408.81 L878.22 410.84 L878.66 412.87 L879.09 414.90 L879.53 416.93 L879.97 418.97 L880.41 421.06 L880.85 423.19 L881.29 425.30 L881.73 427.39 L882.17 429.41 L882.61 431.33 L883.05 433.13 L883.48 434.89 L883.92 436.61 L884.36 438.30 L884.80 439.96 L885.24 441.58 L885.68 443.17 L886.12 444.72 L886.56 446.23 L887.00 447.70 L887.44 449.13 L887.87 450.53 L888.31 451.88 L888.75 453.19 L889.19 454.47 L889.63 455.75 L890.07 457.02 L890.51 458.27 L890.95 459.50 L891.39 460.70 L891.83 461.86 L892.27 462.98 L892.70 464.06 L893.14 465.08 L893.58 466.03 L894.02 466.93 L894.46 467.74 L894.90 468.48 L895.34 469.18 L895.78 469.86 L896.22 470.50 L896.66 471.11 L897.09 471.66 L897.53 472.17 L897.97 472.60 L898.41 472.96 L898.85 473.24 L899.29 473.50 L899.73 473.74 L900.17 473.97 L900.61 474.18 L901.05 474.35 L901.48 474.48 L901.92 474.57 L902.36 474.60 L902.80 474.58 L903.24 474.50 L903.68 474.39 L904.12 474.24 L904.56 474.06 L905.00 473.86 L905.44 473.65 L905.88 473.44 L906.31 473.21 L906.75 472.95 L907.19 472.64 L907.63 472.29 L908.07 471.91 L908.51 471.49 L908.95 471.04 L909.39 470.56 L909.83 470.06 L910.27 469.51 L910.70 468.90 L911.14 468.21 L911.58 467.46 L912.02 466.65 L912.46 465.79 L912.90 464.88 L913.34 463.93 L913.78 462.95 L914.22 461.94 L914.66 460.91 L915.09 459.86 L915.53 458.81 L915.97 457.75 L916.41 456.69 L916.85 455.63 L917.29 454.60 L917.73 453.56 L918.17 452.50 L918.61 451.41 L919.05 450.30 L919.49 449.17 L919.92 448.02 L920.36 446.86 L920.80 445.68 L921.24 444.49 L921.68 443.29 L922.12 442.08 L922.56 440.88 L923.00 439.67 L923.44 438.46 L923.88 437.26 L924.31 436.06 L924.75 434.88 L925.19 433.70 L925.63 432.52 L926.07 431.34 L926.51 430.14 L926.95 428.95 L927.39 427.75 L927.83 426.54 L928.27 425.34 L928.70 424.14 L929.14 422.94 L929.58 421.75 L930.02 420.56 L930.46 419.38 L930.90 418.22 L931.34 417.06 L931.78 415.91 L932.22 414.78 L932.66 413.66 L933.10 412.56 L933.53 411.47 L933.97 410.38 L934.41 409.31 L934.85 408.25 L935.29 407.19 L935.73 406.15 L936.17 405.11 L936.61 404.09 L937.05 403.06 L937.49 402.04 L937.92 401.02 L938.36 400.01 L938.80 399.00 L939.24 397.99 L939.68 396.99 L940.12 395.99" stroke="#d62728" stroke-width="4.57" stroke-dasharray="16.91 7.31" stroke-dashoffset="0.36"/>
<path d="M545.43 472.57 L545.87 472.54 L546.31 472.52 L546.75 472.50 L547.19 472.47 L547.63 472.45 L548.06 472.43 L548.50 472.40 L548.94 472.37 L549.38 472.35 L549.82 472.32 L550.26 472.29 L550.70 472.27 L551.14 472.24 L551.58 472.21 L552.02 472.17 L552.45 472.14 L552.89 472.11 L553.33 472.07 L553.77 472.04 L554.21 472.00 L554.65 471.97 L555.09 471.93 L555.53 471.89 L555.97 471.85 L556.41 471.81 L556.85 471.77 L557.28 471.73 L557.72 471.69 L558.16 471.65 L558.60 471.61 L559.04 471.56 L559.48 471.52 L559.92 471.48 L560.36 471.43 L560.80 471.38 L561.24 471.33 L561.67 471.28 L562.11 471.23 L562.55 471.18 L562.99 471.12 L563.43 471.06 L563.87 471.00 L564.31 470.95 L564.75 470.88 L565.19 470.82 L565.63 470.76 L566.06 470.70 L566.50 470.63 L566.94 470.57 L567.38 470.51 L567.82 470.44 L568.26 470.38 L568.70 470.31 L569.14 470.25 L569.58 470.19 L570.02 470.13 L570.46 470.06 L570.89 470.00 L571.33 469.94 L571.77 469.88 L572.21 469.83 L572.65 469.77 L573.09 469.71 L573.53 469.65 L573.97 469.59 L574.41 469.53 L574.85 469.47 L575.28 469.41 L575.72 469.35 L576.16 469.29 L576.60 469.22 L577.04 469.16 L577.48 469.10 L577.92 469.04 L578.36 468.98 L578.80 468.93 L579.24 468.87 L579.67 468.81 L580.11 468.76 L580.55 468.70 L580.99 468.65 L581.43 468.59 L581.87 468.54 L582.31 468.49 L582.75 468.45 L583.19 468.40 L583.63 468.36 L584.07 468.31 L584.50 468.27 L584.94 468.23 L585.38 468.19 L585.82 468.14 L586.26 468.10 L586.70 468.05 L587.14 468.01 L587.58 467.97 L588.02 467.92 L588.46 467.88 L588.89 467.84 L589.33 467.80 L589.77 467.76 L590.21 467.72 L590.65 467.68 L591.09 467.64 L591.53 467.61 L591.97 467.58 L592.41 467.55 L592.85 467.52 L593.28 467.49 L593.72 467.47 L594.16 467.45 L594.60 467.44 L595.04 467.42 L595.48 467.42 L595.92 467.41 L596.36 467.41 L596.80 467.41 L597.24 467.41 L597.68 467.42 L598.11 467.43 L598.55 467.44 L598.99 467.45 L599.43 467.46 L599.87 467.48 L600.31 467.49 L600.75 467.51 L601.19 467.53 L601.63 467.55 L602.07 467.57 L602.50 467.59 L602.94 467.61 L603.38 467.63 L603.82 467.65 L604.26 467.67 L604.70 467.69 L605.14 467.72 L605.58 467.74 L606.02 467.76 L606.46 467.78 L606.89 467.80 L607.33 467.82 L607.77 467.84 L608.21 467.85 L608.65 467.87 L609.09 467.89 L609.53 467.91 L609.97 467.93 L610.41 467.95 L610.85 467.97 L611.29 467.99 L611.72 468.01 L612.16 468.03 L612.60 468.06 L613.04 468.08 L613.48 468.10 L613.92 468.12 L614.36 468.14 L614.80 468.16 L615.24 468.18 L615.68 468.20 L616.11 468.22 L616.55 468.23 L616.99 468.25 L617.43 468.26 L617.87 468.27 L618.31 468.28 L618.75 468.29 L619.19 468.30 L619.63 468.30 L620.07 468.31 L620.50 468.31 L620.94 468.30 L621.38 468.30 L621.82 468.29 L622.26 468.28 L622.70 468.27 L623.14 468.26 L623.58 468.24 L624.02 468.22 L624.46 468.20 L624.90 468.18 L625.33 468.16 L625.77 468.14 L626.21 468.11 L626.65 468.09 L627.09 468.05 L627.53 468.01 L627.97 467.95 L628.41 467.89 L628.85 467.81 L629.29 467.73 L629.72 467.63 L630.16 467.53 L630.60 467.43 L631.04 467.31 L631.48 467.19 L631.92 467.07 L632.36 466.94 L632.80 466.80 L633.24 466.63 L633.68 466.44 L634.11 466.23 L634.55 466.00 L634.99 465.75 L635.43 465.50 L635.87 465.23 L636.31 464.94 L636.75 464.65 L637.19 464.36 L637.63 464.05 L638.07 463.73 L638.51 463.37 L638.94 463.00 L639.38 462.61 L639.82 462.19 L640.26 461.76 L640.70 461.32 L641.14 460.86 L641.58 460.38 L642.02 459.90 L642.46 459.39 L642.90 458.87 L643.33 458.32 L643.77 457.75 L644.21 457.15 L644.65 456.55 L645.09 455.92 L645.53 455.28 L645.97 454.62 L646.41 453.95 L646.85 453.26 L647.29 452.57 L647.72 451.87 L648.16 451.15 L648.60 450.43 L649.04 449.71 L649.48 448.96 L649.92 448.20 L650.36 447.42 L650.80 446.62 L651.24 445.80 L651.68 444.96 L652.12 444.11 L652.55 443.24 L652.99 442.36 L653.43 441.47 L653.87 440.57 L654.31 439.65 L654.75 438.72 L655.19 437.79 L655.63 436.85 L656.07 435.89 L656.51 434.93 L656.94 433.94 L657.38 432.93 L657.82 431.88 L658.26 430.80 L658.70 429.69 L659.14 428.53 L659.58 427.31 L660.02 426.02 L660.46 424.66 L660.90 423.24 L661.33 421.77 L661.77 420.26 L662.21 418.73 L662.65 417.17 L663.09 415.61 L663.53 414.02 L663.97 412.36 L664.41 410.67 L664.85 408.96 L665.29 407.25 L665.73 405.56 L666.16 403.91 L666.60 402.30 L667.04 400.71 L667.48 399.13 L667.92 397.53 L668.36 395.91 L668.80 394.25 L669.24 392.54 L669.68 390.78 L670.12 388.99 L670.55 387.17 L670.99 385.31 L671.43 383.42 L671.87 381.50 L672.31 379.54 L672.75 377.49 L673.19 375.41 L673.63 373.32 L674.07 371.27 L674.51 369.29 L674.94 367.43 L675.38 365.66 L675.82 363.93 L676.26 362.18 L676.70 360.36 L677.14 358.41 L677.58 356.28 L678.02 353.95 L678.46 351.45 L678.90 348.85 L679.33 346.19 L679.77 343.48 L680.21 340.59 L680.65 337.66 L681.09 334.85 L681.53 332.26 L681.97 329.76 L682.41 327.32 L682.85 324.94 L683.29 322.60 L683.73 320.31 L684.16 318.06 L684.60 315.83 L685.04 313.63 L685.48 311.44 L685.92 309.26 L686.36 307.08 L686.80 304.89 L687.24 302.69 L687.68 300.47 L688.12 298.22 L688.55 295.93 L688.99 293.65 L689.43 291.41 L689.87 289.21 L690.31 287.05 L690.75 284.89 L691.19 282.75 L691.63 280.60 L692.07 278.44 L692.51 276.26 L692.94 274.04 L693.38 271.77 L693.82 269.44 L694.26 267.05 L694.70 264.58 L695.14 262.02 L695.58 259.35 L696.02 256.58 L696.46 253.68 L696.90 250.51 L697.34 247.08 L697.77 243.43 L698.21 239.61 L698.65 235.68 L699.09 231.68 L699.53 227.67 L699.97 223.71 L700.41 219.83 L700.85 216.10 L701.29 212.56 L701.73 209.14 L702.16 205.79 L702.60 202.50 L703.04 199.25 L703.48 196.04 L703.92 192.84 L704.36 189.65 L704.80 186.45 L705.24 183.24 L705.68 179.99 L706.12 176.69 L706.55 173.34 L706.99 169.93 L707.43 166.48 L707.87 163.01 L708.31 159.54 L708.75 156.08 L709.19 152.64 L709.63 149.25 L710.07 145.91 L710.51 142.65 L710.95 139.49 L711.38 136.43 L711.82 133.46 L712.26 130.53 L712.70 127.66 L713.14 124.82 L713.58 122.03 L714.02 119.29 L714.46 116.59 L714.90 113.94 L715.34 111.34 L715.77 108.78 L716.21 106.26 L716.65 103.80 L717.09 101.37 L717.53 99.00 L717.97 96.65 L718.41 94.34 L718.85 92.05 L719.29 89.80 L719.73 87.58 L720.16 85.40 L720.60 83.25 L721.04 81.14 L721.48 79.06 L721.92 77.02 L722.36 75.02 L722.80 73.06 L723.24 71.14 L723.68 69.25 L724.12 67.40 L724.56 65.56 L724.99 63.73 L725.43 61.93 L725.87 60.14 L726.31 58.39 L726.75 56.66 L727.19 54.98 L727.63 53.34 L728.07 51.75 L728.51 50.21 L728.95 48.72 L729.38 47.30 L729.82 45.95 L730.26 44.66 L730.70 43.41 L731.14 42.16 L731.58 40.92 L732.02 39.71 L732.46 38.53 L732.90 37.38 L733.34 36.27 L733.77 35.22 L734.21 34.23 L734.65 33.31 L735.09 32.46 L735.53 31.69 L735.97 31.02 L736.41 30.44 L736.85 29.91 L737.29 29.38 L737.73 28.86 L738.17 28.36 L738.60 27.88 L739.04 27.45 L739.48 27.05 L739.92 26.70 L740.36 26.41 L740.80 26.19 L741.24 26.04 L741.68 25.97" stroke="#2ca02c" stroke-width="4.57" stroke-dasharray="4.57 7.54" stroke-dashoffset="11.09"/>
<path d="M741.68 25.97 L742.12 25.99 L742.56 26.09 L742.99 26.28 L743.43 26.54 L743.87 26.86 L744.31 27.23 L744.75 27.65 L745.19 28.11 L745.63 28.60 L746.07 29.11 L746.51 29.63 L746.95 30.27 L747.38 31.07 L747.82 32.02 L748.26 33.10 L748.70 34.28 L749.14 35.56 L749.58 36.90 L750.02 38.29 L750.46 39.72 L750.90 41.15 L751.34 42.58 L751.78 44.01 L752.21 45.51 L752.65 47.08 L753.09 48.72 L753.53 50.42 L753.97 52.17 L754.41 53.97 L754.85 55.80 L755.29 57.68 L755.73 59.57 L756.17 61.49 L756.60 63.42 L757.04 65.35 L757.48 67.29 L757.92 69.19 L758.36 71.08 L758.80 72.96 L759.24 74.84 L759.68 76.74 L760.12 78.66 L760.56 80.63 L760.99 82.66 L761.43 84.75 L761.87 86.92 L762.31 89.18 L762.75 91.55 L763.19 94.03 L763.63 96.64 L764.07 99.40 L764.51 102.34 L764.95 105.60 L765.39 109.18 L765.82 113.04 L766.26 117.14 L766.70 121.47 L767.14 125.98 L767.58 130.65 L768.02 135.45 L768.46 140.34 L768.90 145.30 L769.34 150.30 L769.78 155.29 L770.21 160.26 L770.65 165.17 L771.09 169.99 L771.53 174.69 L771.97 179.26 L772.41 183.81 L772.85 188.38 L773.29 192.96 L773.73 197.55 L774.17 202.15 L774.60 206.76 L775.04 211.38 L775.48 216.00 L775.92 220.62 L776.36 225.24 L776.80 229.86 L777.24 234.48 L777.68 239.09 L778.12 243.69 L778.56 248.28 L779.00 252.87 L779.43 257.47 L779.87 262.17 L780.31 266.96 L780.75 271.83 L781.19 276.75 L781.63 281.69 L782.07 286.65 L782.51 291.59 L782.95 296.49 L783.39 301.34 L783.82 306.12 L784.26 310.79 L784.70 315.35 L785.14 319.77 L785.58 324.03 L786.02 328.11 L786.46 331.98 L786.90 335.63 L787.34 339.04 L787.78 341.99 L788.21 344.54 L788.65 346.89 L789.09 349.22 L789.53 351.73 L789.97 354.63 L790.41 358.12 L790.85 363.06 L791.29 369.44 L791.73 375.28 L792.17 379.94 L792.61 384.20 L793.04 388.18 L793.48 392.04 L793.92 395.83 L794.36 399.49 L794.80 403.02 L795.24 406.39 L795.68 409.57 L796.12 412.57 L796.56 415.42 L797.00 418.17 L797.43 420.85 L797.87 423.49 L798.31 426.14 L798.75 428.73 L799.19 431.28 L799.63 433.80 L800.07 436.32 L800.51 438.90 L800.95 441.62 L801.39 444.33 L801.82 446.86 L802.26 449.05 L802.70 450.91 L803.14 452.62 L803.58 454.21 L804.02 455.69 L804.46 457.09 L804.90 458.43 L805.34 459.73 L805.78 461.00 L806.22 462.25 L806.65 463.48 L807.09 464.65 L807.53 465.77 L807.97 466.82 L808.41 467.78 L808.85 468.67 L809.29 469.51 L809.73 470.29 L810.17 470.98 L810.61 471.56 L811.04 472.08 L811.48 472.55 L811.92 472.94 L812.36 473.22 L812.80 473.41 L813.24 473.57 L813.68 473.68 L814.12 473.68 L814.56 473.44 L815.00 472.97 L815.43 472.38 L815.87 471.73 L816.31 470.98 L816.75 470.01 L817.19 468.88 L817.63 467.66 L818.07 466.42 L818.51 465.20 L818.95 463.96 L819.39 462.69 L819.82 461.36 L820.26 459.98 L820.70 458.52 L821.14 456.97 L821.58 455.33 L822.02 453.51 L822.46 451.37 L822.90 449.05 L823.34 446.71 L823.78 444.50 L824.22 442.57 L824.65 440.91 L825.09 439.43 L825.53 438.04 L825.97 436.64 L826.41 435.16 L826.85 433.52 L827.29 431.63 L827.73 429.42 L828.17 426.97 L828.61 424.35 L829.04 421.63 L829.48 418.87 L829.92 415.95 L830.36 412.89 L830.80 409.74 L831.24 406.56 L831.68 403.36 L832.12 400.00 L832.56 396.30 L833.00 391.86 L833.43 387.04 L833.87 382.69 L834.31 378.85 L834.75 375.09 L835.19 370.97 L835.63 366.30 L836.07 361.67 L836.51 357.71 L836.95 354.23 L837.39 350.76 L837.83 346.88 L838.26 342.54 L838.70 337.97 L839.14 333.36 L839.58 328.61 L840.02 323.78 L840.46 318.67 L840.90 313.86 L841.34 309.77 L841.78 306.07 L842.22 302.61 L842.65 299.30 L843.09 296.24 L843.53 293.28 L843.97 290.27 L844.41 287.03 L844.85 283.61 L845.29 280.16 L845.73 276.86 L846.17 273.66 L846.61 270.52 L847.04 267.57 L847.48 264.90 L847.92 262.54 L848.36 260.41 L848.80 258.41 L849.24 256.42 L849.68 254.36 L850.12 252.13 L850.56 249.70 L851.00 247.14 L851.44 244.52 L851.87 241.92 L852.31 239.39 L852.75 236.86 L853.19 234.32 L853.63 231.85 L854.07 229.48 L854.51 227.27 L854.95 225.12 L855.39 223.04 L855.83 221.04 L856.26 219.14 L856.70 217.36 L857.14 215.68 L857.58 214.00 L858.02 212.33 L858.46 210.71 L858.90 209.18 L859.34 207.78 L859.78 206.54 L860.22 205.51 L860.65 204.72 L861.09 204.06 L861.53 203.49 L861.97 203.01 L862.41 202.62 L862.85 202.34 L863.29 202.09 L863.73 201.87 L864.17 201.71 L864.61 201.64 L865.05 201.70 L865.48 201.88 L865.92 202.14 L866.36 202.46 L866.80 202.80 L867.24 203.26 L867.68 203.84 L868.12 204.52 L868.56 205.26 L869.00 206.10 L869.44 207.07 L869.87 208.17 L870.31 209.39 L870.75 210.70 L871.19 212.10 L871.63 213.57 L872.07 215.08 L872.51 216.63 L872.95 218.26 L873.39 220.04 L873.83 221.96 L874.26 223.98 L874.70 226.05 L875.14 228.15 L875.58 230.26 L876.02 232.43 L876.46 234.67 L876.90 236.95 L877.34 239.29 L877.78 241.65 L878.22 244.00 L878.66 246.38 L879.09 248.87 L879.53 251.54 L879.97 254.49 L880.41 257.88 L880.85 261.47 L881.29 265.01 L881.73 268.36 L882.17 271.67 L882.61 275.06 L883.05 278.67 L883.48 282.58 L883.92 286.53 L884.36 290.24 L884.80 293.72 L885.24 297.11 L885.68 300.51 L886.12 303.95 L886.56 307.41 L887.00 310.85 L887.44 314.26 L887.87 317.65 L888.31 321.02 L888.75 324.39 L889.19 327.75 L889.63 331.09 L890.07 334.47 L890.51 337.95 L890.95 341.60 L891.39 345.30 L891.83 348.88 L892.27 352.30 L892.70 355.65 L893.14 359.00 L893.58 362.39 L894.02 365.81 L894.46 369.24 L894.90 372.65 L895.34 376.03 L895.78 379.40 L896.22 382.82 L896.66 386.38 L897.09 390.06 L897.53 393.77 L897.97 397.45 L898.41 401.24 L898.85 404.95 L899.29 408.25 L899.73 411.01 L900.17 413.46 L900.61 415.77 L901.05 418.11 L901.48 420.67 L901.92 423.56 L902.36 426.61 L902.80 429.59 L903.24 432.23 L903.68 434.52 L904.12 436.65 L904.56 438.65 L905.00 440.55 L905.44 442.36 L905.88 444.11 L906.31 445.82 L906.75 447.50 L907.19 449.14 L907.63 450.71 L908.07 452.19 L908.51 453.56 L908.95 454.81 L909.39 455.94 L909.83 456.99 L910.27 457.97 L910.70 458.89 L911.14 459.78 L911.58 460.64 L912.02 461.48 L912.46 462.35 L912.90 463.25 L913.34 464.06 L913.78 464.71 L914.22 465.12 L914.66 465.47 L915.09 465.73 L915.53 465.83 L915.97 465.81 L916.41 465.72 L916.85 465.60 L917.29 465.45 L917.73 465.27 L918.17 464.98 L918.61 464.60 L919.05 464.16 L919.49 463.69 L919.92 463.24 L920.36 462.80 L920.80 462.34 L921.24 461.85 L921.68 461.34 L922.12 460.78 L922.56 460.16 L923.00 459.48 L923.44 458.70 L923.88 457.77 L924.31 456.73 L924.75 455.58 L925.19 454.33 L925.63 453.01 L926.07 451.63 L926.51 450.21 L926.95 448.77 L927.39 447.29 L927.83 445.68 L928.27 443.95 L928.70 442.14 L929.14 440.28 L929.58 438.40 L930.02 436.54 L930.46 434.73 L930.90 432.92 L931.34 431.09 L931.78 429.22 L932.22 427.28 L932.66 425.24 L933.10 423.02 L933.53 420.57 L933.97 418.02 L934.41 415.52 L934.85 413.23 L935.29 411.22 L935.73 409.36 L936.17 407.52 L936.61 405.63 L937.05 403.73 L937.49 401.84 L937.92 399.94 L938.36 398.04 L938.80 396.15 L939.24 394.25 L939.68 392.36 L940.12 390.46" stroke="#2ca02c" stroke-width="4.57" stroke-dasharray="4.57 7.54" stroke-dashoffset="8.13"/>
<path d="M545.43 475.27 L545.87 475.27 L546.31 475.27 L546.75 475.27 L547.19 475.27 L547.63 475.27 L548.06 475.27 L548.50 475.27 L548.94 475.27 L549.38 475.27 L549.82 475.27 L550.26 475.26 L550.70 475.26 L551.14 475.26 L551.58 475.26 L552.02 475.26 L552.45 475.26 L552.89 475.26 L553.33 475.26 L553.77 475.26 L554.21 475.26 L554.65 475.26 L555.09 475.26 L555.53 475.26 L555.97 475.25 L556.41 475.25 L556.85 475.25 L557.28 475.25 L557.72 475.25 L558.16 475.25 L558.60 475.25 L559.04 475.25 L559.48 475.25 L559.92 475.25 L560.36 475.25 L560.80 475.24 L561.24 475.24 L561.67 475.24 L562.11 475.24 L562.55 475.24 L562.99 475.24 L563.43 475.24 L563.87 475.24 L564.31 475.23 L564.75 475.23 L565.19 475.23 L565.63 475.23 L566.06 475.23 L566.50 475.23 L566.94 475.23 L567.38 475.22 L567.82 475.22 L568.26 475.22 L568.70 475.22 L569.14 475.21 L569.58 475.21 L570.02 475.20 L570.46 475.20 L570.89 475.19 L571.33 475.19 L571.77 475.18 L572.21 475.18 L572.65 475.17 L573.09 475.17 L573.53 475.16 L573.97 475.16 L574.41 475.15 L574.85 475.15 L575.28 475.14 L575.72 475.13 L576.16 475.13 L576.60 475.12 L577.04 475.12 L577.48 475.11 L577.92 475.11 L578.36 475.10 L578.80 475.09 L579.24 475.09 L579.67 475.08 L580.11 475.08 L580.55 475.08 L580.99 475.07 L581.43 475.07 L581.87 475.06 L582.31 475.06 L582.75 475.06 L583.19 475.06 L583.63 475.05 L584.07 475.05 L584.50 475.05 L584.94 475.05 L585.38 475.05 L585.82 475.05 L586.26 475.05 L586.70 475.05 L587.14 475.05 L587.58 475.05 L588.02 475.05 L588.46 475.05 L588.89 475.05 L589.33 475.05 L589.77 475.05 L590.21 475.05 L590.65 475.05 L591.09 475.05 L591.53 475.05 L591.97 475.05 L592.41 475.05 L592.85 475.05 L593.28 475.05 L593.72 475.05 L594.16 475.05 L594.60 475.05 L595.04 475.05 L595.48 475.05 L595.92 475.05 L596.36 475.05 L596.80 475.05 L597.24 475.05 L597.68 475.05 L598.11 475.05 L598.55 475.05 L598.99 475.05 L599.43 475.05 L599.87 475.05 L600.31 475.05 L600.75 475.05 L601.19 475.05 L601.63 475.05 L602.07 475.05 L602.50 475.05 L602.94 475.05 L603.38 475.05 L603.82 475.05 L604.26 475.05 L604.70 475.05 L605.14 475.05 L605.58 475.05 L606.02 475.05 L606.46 475.05 L606.89 475.05 L607.33 475.05 L607.77 475.04 L608.21 475.03 L608.65 475.02 L609.09 475.00 L609.53 474.99 L609.97 474.97 L610.41 474.95 L610.85 474.92 L611.29 474.90 L611.72 474.87 L612.16 474.84 L612.60 474.82 L613.04 474.79 L613.48 474.76 L613.92 474.72 L614.36 474.69 L614.80 474.66 L615.24 474.62 L615.68 474.58 L616.11 474.53 L616.55 474.48 L616.99 474.42 L617.43 474.36 L617.87 474.30 L618.31 474.23 L618.75 474.16 L619.19 474.09 L619.63 474.02 L620.07 473.94 L620.50 473.86 L620.94 473.78 L621.38 473.70 L621.82 473.61 L622.26 473.53 L622.70 473.44 L623.14 473.35 L623.58 473.26 L624.02 473.16 L624.46 473.06 L624.90 472.95 L625.33 472.84 L625.77 472.72 L626.21 472.60 L626.65 472.48 L627.09 472.35 L627.53 472.22 L627.97 472.09 L628.41 471.95 L628.85 471.80 L629.29 471.66 L629.72 471.51 L630.16 471.35 L630.60 471.18 L631.04 471.00 L631.48 470.81 L631.92 470.60 L632.36 470.39 L632.80 470.17 L633.24 469.95 L633.68 469.73 L634.11 469.50 L634.55 469.28 L634.99 469.06 L635.43 468.85 L635.87 468.65 L636.31 468.45 L636.75 468.27 L637.19 468.09 L637.63 467.91 L638.07 467.73 L638.51 467.56 L638.94 467.38 L639.38 467.21 L639.82 467.05 L640.26 466.88 L640.70 466.72 L641.14 466.56 L641.58 466.41 L642.02 466.27 L642.46 466.12 L642.90 465.99 L643.33 465.86 L643.77 465.73 L644.21 465.60 L644.65 465.46 L645.09 465.33 L645.53 465.19 L645.97 465.06 L646.41 464.93 L646.85 464.82 L647.29 464.72 L647.72 464.63 L648.16 464.56 L648.60 464.51 L649.04 464.49 L649.48 464.49 L649.92 464.52 L650.36 464.57 L650.80 464.64 L651.24 464.72 L651.68 464.82 L652.12 464.94 L652.55 465.06 L652.99 465.19 L653.43 465.33 L653.87 465.47 L654.31 465.61 L654.75 465.75 L655.19 465.88 L655.63 466.02 L656.07 466.17 L656.51 466.33 L656.94 466.50 L657.38 466.68 L657.82 466.87 L658.26 467.06 L658.70 467.26 L659.14 467.46 L659.58 467.67 L660.02 467.89 L660.46 468.11 L660.90 468.34 L661.33 468.58 L661.77 468.84 L662.21 469.12 L662.65 469.41 L663.09 469.72 L663.53 470.03 L663.97 470.35 L664.41 470.67 L664.85 470.99 L665.29 471.31 L665.73 471.62 L666.16 471.92 L666.60 472.21 L667.04 472.48 L667.48 472.73 L667.92 472.97 L668.36 473.23 L668.80 473.50 L669.24 473.77 L669.68 474.03 L670.12 474.29 L670.55 474.54 L670.99 474.76 L671.43 474.96 L671.87 475.12 L672.31 475.25 L672.75 475.33 L673.19 475.36 L673.63 475.35 L674.07 475.30 L674.51 475.22 L674.94 475.12 L675.38 475.00 L675.82 474.85 L676.26 474.69 L676.70 474.52 L677.14 474.35 L677.58 474.16 L678.02 473.96 L678.46 473.70 L678.90 473.40 L679.33 473.06 L679.77 472.68 L680.21 472.27 L680.65 471.84 L681.09 471.38 L681.53 470.91 L681.97 470.42 L682.41 469.91 L682.85 469.34 L683.29 468.72 L683.73 468.06 L684.16 467.34 L684.60 466.58 L685.04 465.78 L685.48 464.94 L685.92 464.03 L686.36 463.05 L686.80 462.01 L687.24 460.90 L687.68 459.74 L688.12 458.52 L688.55 457.24 L688.99 455.91 L689.43 454.54 L689.87 453.11 L690.31 451.60 L690.75 449.99 L691.19 448.27 L691.63 446.47 L692.07 444.59 L692.51 442.63 L692.94 440.59 L693.38 438.50 L693.82 436.34 L694.26 434.08 L694.70 431.71 L695.14 429.24 L695.58 426.68 L696.02 424.04 L696.46 421.31 L696.90 418.52 L697.34 415.67 L697.77 412.76 L698.21 409.81 L698.65 406.82 L699.09 403.79 L699.53 400.72 L699.97 397.60 L700.41 394.41 L700.85 391.14 L701.29 387.78 L701.73 384.32 L702.16 380.74 L702.60 377.03 L703.04 373.19 L703.48 369.19 L703.92 365.03 L704.36 360.45 L704.80 355.40 L705.24 350.09 L705.68 344.71 L706.12 339.46 L706.55 334.40 L706.99 329.33 L707.43 324.26 L707.87 319.21 L708.31 314.19 L708.75 309.23 L709.19 304.33 L709.63 299.51 L710.07 294.80 L710.51 290.21 L710.95 285.69 L711.38 281.24 L711.82 276.82 L712.26 272.40 L712.70 267.97 L713.14 263.49 L713.58 258.94 L714.02 254.29 L714.46 249.55 L714.90 244.75 L715.34 239.91 L715.77 235.02 L716.21 230.10 L716.65 225.14 L717.09 220.14 L717.53 215.12 L717.97 210.07 L718.41 204.99 L718.85 199.89 L719.29 194.77 L719.73 189.63 L720.16 184.48 L720.60 179.32 L721.04 174.15 L721.48 168.91 L721.92 163.48 L722.36 157.92 L722.80 152.27 L723.24 146.56 L723.68 140.84 L724.12 135.15 L724.56 129.54 L724.99 124.04 L725.43 118.71 L725.87 113.57 L726.31 108.67 L726.75 104.06 L727.19 99.77 L727.63 95.73 L728.07 91.86 L728.51 88.15 L728.95 84.58 L729.38 81.15 L729.82 77.83 L730.26 74.61 L730.70 71.47 L731.14 68.40 L731.58 65.37 L732.02 62.39 L732.46 59.47 L732.90 56.64 L733.34 53.93 L733.77 51.34 L734.21 48.91 L734.65 46.66 L735.09 44.56 L735.53 42.50 L735.97 40.47 L736.41 38.52 L736.85 36.68 L737.29 34.99 L737.73 33.47 L738.17 32.17 L738.60 31.13 L739.04 30.28 L739.48 29.45 L739.92 28.67 L740.36 27.94 L740.80 27.30 L741.24 26.76 L741.68 26.34 L742.12 26.07 L742.56 25.97" stroke="#808080" stroke-width="3.43" stroke-dasharray="21.95 5.49 3.43 5.49" stroke-dashoffset="32.66"/>
<path d="M742.56 25.97 L742.99 26.05 L743.43 26.30 L743.87 26.70 L744.31 27.23 L744.75 27.86 L745.19 28.58 L745.63 29.36 L746.07 30.18 L746.51 31.02 L746.95 32.04 L747.38 33.31 L747.82 34.80 L748.26 36.47 L748.70 38.30 L749.14 40.23 L749.58 42.25 L750.02 44.32 L750.46 46.40 L750.90 48.64 L751.34 51.05 L751.78 53.61 L752.21 56.31 L752.65 59.13 L753.09 62.04 L753.53 65.01 L753.97 68.04 L754.41 71.10 L754.85 74.23 L755.29 77.44 L755.73 80.75 L756.17 84.17 L756.60 87.72 L757.04 91.41 L757.48 95.26 L757.92 99.28 L758.36 103.54 L758.80 108.11 L759.24 112.97 L759.68 118.09 L760.12 123.40 L760.56 128.88 L760.99 134.48 L761.43 140.16 L761.87 145.88 L762.31 151.59 L762.75 157.26 L763.19 162.83 L763.63 168.27 L764.07 173.54 L764.51 178.71 L764.95 183.87 L765.39 189.02 L765.82 194.16 L766.26 199.28 L766.70 204.38 L767.14 209.46 L767.58 214.52 L768.02 219.55 L768.46 224.55 L768.90 229.51 L769.34 234.44 L769.78 239.33 L770.21 244.18 L770.65 248.98 L771.09 253.74 L771.53 258.40 L771.97 262.96 L772.41 267.44 L772.85 271.88 L773.29 276.29 L773.73 280.71 L774.17 285.16 L774.60 289.67 L775.04 294.25 L775.48 298.95 L775.92 303.75 L776.36 308.64 L776.80 313.60 L777.24 318.61 L777.68 323.66 L778.12 328.73 L778.56 333.80 L779.00 338.86 L779.43 344.08 L779.87 349.45 L780.31 354.78 L780.75 359.87 L781.19 364.52 L781.63 368.71 L782.07 372.72 L782.51 376.59 L782.95 380.31 L783.39 383.90 L783.82 387.38 L784.26 390.75 L784.70 394.03 L785.14 397.23 L785.58 400.36 L786.02 403.43 L786.46 406.46 L786.90 409.46 L787.34 412.42 L787.78 415.33 L788.21 418.19 L788.65 420.99 L789.09 423.72 L789.53 426.37 L789.97 428.94 L790.41 431.42 L790.85 433.80 L791.29 436.08 L791.73 438.24 L792.17 440.31 L792.61 442.29 L793.04 444.20 L793.48 446.03 L793.92 447.81 L794.36 449.54 L794.80 451.22 L795.24 452.87 L795.68 454.51 L796.12 456.14 L796.56 457.76 L797.00 459.34 L797.43 460.86 L797.87 462.29 L798.31 463.62 L798.75 464.82 L799.19 465.89 L799.63 466.89 L800.07 467.82 L800.51 468.67 L800.95 469.45 L801.39 470.14 L801.82 470.76 L802.26 471.37 L802.70 471.95 L803.14 472.49 L803.58 472.99 L804.02 473.42 L804.46 473.79 L804.90 474.08 L805.34 474.29 L805.78 474.49 L806.22 474.68 L806.65 474.86 L807.09 475.02 L807.53 475.15 L807.97 475.25 L808.41 475.32 L808.85 475.36 L809.29 475.36 L809.73 475.30 L810.17 475.19 L810.61 475.05 L811.04 474.87 L811.48 474.65 L811.92 474.42 L812.36 474.17 L812.80 473.90 L813.24 473.63 L813.68 473.36 L814.12 473.10 L814.56 472.85 L815.00 472.61 L815.43 472.35 L815.87 472.07 L816.31 471.77 L816.75 471.47 L817.19 471.15 L817.63 470.83 L818.07 470.51 L818.51 470.19 L818.95 469.88 L819.39 469.57 L819.82 469.27 L820.26 468.98 L820.70 468.71 L821.14 468.46 L821.58 468.23 L822.02 468.00 L822.46 467.78 L822.90 467.57 L823.34 467.36 L823.78 467.16 L824.22 466.96 L824.65 466.77 L825.09 466.59 L825.53 466.42 L825.97 466.25 L826.41 466.10 L826.85 465.95 L827.29 465.82 L827.73 465.68 L828.17 465.54 L828.61 465.40 L829.04 465.26 L829.48 465.13 L829.92 465.00 L830.36 464.88 L830.80 464.77 L831.24 464.68 L831.68 464.60 L832.12 464.54 L832.56 464.50 L833.00 464.49 L833.43 464.50 L833.87 464.53 L834.31 464.59 L834.75 464.67 L835.19 464.77 L835.63 464.87 L836.07 464.99 L836.51 465.12 L836.95 465.26 L837.39 465.39 L837.83 465.53 L838.26 465.67 L838.70 465.80 L839.14 465.92 L839.58 466.06 L840.02 466.19 L840.46 466.34 L840.90 466.49 L841.34 466.64 L841.78 466.80 L842.22 466.96 L842.65 467.13 L843.09 467.30 L843.53 467.47 L843.97 467.64 L844.41 467.82 L844.85 468.00 L845.29 468.18 L845.73 468.36 L846.17 468.55 L846.61 468.75 L847.04 468.95 L847.48 469.17 L847.92 469.39 L848.36 469.61 L848.80 469.84 L849.24 470.06 L849.68 470.28 L850.12 470.49 L850.56 470.70 L851.00 470.90 L851.44 471.09 L851.87 471.27 L852.31 471.43 L852.75 471.58 L853.19 471.73 L853.63 471.87 L854.07 472.02 L854.51 472.15 L854.95 472.29 L855.39 472.42 L855.83 472.54 L856.26 472.66 L856.70 472.78 L857.14 472.89 L857.58 473.00 L858.02 473.11 L858.46 473.21 L858.90 473.31 L859.34 473.40 L859.78 473.49 L860.22 473.57 L860.65 473.66 L861.09 473.74 L861.53 473.82 L861.97 473.90 L862.41 473.98 L862.85 474.05 L863.29 474.13 L863.73 474.20 L864.17 474.27 L864.61 474.33 L865.05 474.39 L865.48 474.45 L865.92 474.51 L866.36 474.56 L866.80 474.60 L867.24 474.64 L867.68 474.68 L868.12 474.71 L868.56 474.74 L869.00 474.77 L869.44 474.80 L869.87 474.83 L870.31 474.86 L870.75 474.88 L871.19 474.91 L871.63 474.93 L872.07 474.96 L872.51 474.98 L872.95 475.00 L873.39 475.01 L873.83 475.02 L874.26 475.04 L874.70 475.04 L875.14 475.05 L875.58 475.05 L876.02 475.05 L876.46 475.05 L876.90 475.05 L877.34 475.05 L877.78 475.05 L878.22 475.05 L878.66 475.05 L879.09 475.05 L879.53 475.05 L879.97 475.05 L880.41 475.05 L880.85 475.05 L881.29 475.05 L881.73 475.05 L882.17 475.05 L882.61 475.05 L883.05 475.05 L883.48 475.05 L883.92 475.05 L884.36 475.05 L884.80 475.05 L885.24 475.05 L885.68 475.05 L886.12 475.05 L886.56 475.05 L887.00 475.05 L887.44 475.05 L887.87 475.05 L888.31 475.05 L888.75 475.05 L889.19 475.05 L889.63 475.05 L890.07 475.05 L890.51 475.05 L890.95 475.05 L891.39 475.05 L891.83 475.05 L892.27 475.05 L892.70 475.05 L893.14 475.05 L893.58 475.05 L894.02 475.05 L894.46 475.05 L894.90 475.05 L895.34 475.05 L895.78 475.05 L896.22 475.05 L896.66 475.05 L897.09 475.05 L897.53 475.05 L897.97 475.05 L898.41 475.05 L898.85 475.06 L899.29 475.06 L899.73 475.06 L900.17 475.06 L900.61 475.07 L901.05 475.07 L901.48 475.07 L901.92 475.08 L902.36 475.08 L902.80 475.09 L903.24 475.09 L903.68 475.10 L904.12 475.10 L904.56 475.11 L905.00 475.11 L905.44 475.12 L905.88 475.12 L906.31 475.13 L906.75 475.14 L907.19 475.14 L907.63 475.15 L908.07 475.15 L908.51 475.16 L908.95 475.17 L909.39 475.17 L909.83 475.18 L910.27 475.18 L910.70 475.19 L911.14 475.19 L911.58 475.20 L912.02 475.20 L912.46 475.21 L912.90 475.21 L913.34 475.21 L913.78 475.22 L914.22 475.22 L914.66 475.22 L915.09 475.23 L915.53 475.23 L915.97 475.23 L916.41 475.23 L916.85 475.23 L917.29 475.23 L917.73 475.23 L918.17 475.24 L918.61 475.24 L919.05 475.24 L919.49 475.24 L919.92 475.24 L920.36 475.24 L920.80 475.24 L921.24 475.24 L921.68 475.24 L922.12 475.25 L922.56 475.25 L923.00 475.25 L923.44 475.25 L923.88 475.25 L924.31 475.25 L924.75 475.25 L925.19 475.25 L925.63 475.25 L926.07 475.25 L926.51 475.26 L926.95 475.26 L927.39 475.26 L927.83 475.26 L928.27 475.26 L928.70 475.26 L929.14 475.26 L929.58 475.26 L930.02 475.26 L930.46 475.26 L930.90 475.26 L931.34 475.26 L931.78 475.26 L932.22 475.27 L932.66 475.27 L933.10 475.27 L933.53 475.27 L933.97 475.27 L934.41 475.27 L934.85 475.27 L935.29 475.27 L935.73 475.27 L936.17 475.27 L936.61 475.27 L937.05 475.27 L937.49 475.27 L937.92 475.27 L938.36 475.27 L938.80 475.27 L939.24 475.27 L939.68 475.27 L940.12 475.27" stroke="#808080" stroke-width="3.43" stroke-dasharray="21.95 5.49 3.43 5.49" stroke-dashoffset="14.49"/>
</g>
<rect x="549.3" y="3.25" width="386.95" height="494.55" fill="none" stroke="#000" stroke-width="1.0"/>
<line x1="549.30" x2="549.30" y1="497.8" y2="502.0" stroke="#000" stroke-width="1.0"/>
<text x="549.30" y="526.2" text-anchor="middle">−100</text>
<line x1="646.04" x2="646.04" y1="497.8" y2="502.0" stroke="#000" stroke-width="1.0"/>
<text x="646.04" y="526.2" text-anchor="middle">−50</text>
<line x1="742.77" x2="742.77" y1="497.8" y2="502.0" stroke="#000" stroke-width="1.0"/>
<text x="742.77" y="526.2" text-anchor="middle">0</text>
<line x1="839.51" x2="839.51" y1="497.8" y2="502.0" stroke="#000" stroke-width="1.0"/>
<text x="839.51" y="526.2" text-anchor="middle">50</text>
<line x1="936.25" x2="936.25" y1="497.8" y2="502.0" stroke="#000" stroke-width="1.0"/>
<text x="936.25" y="526.2" text-anchor="middle">100</text>
<line x1="545.0999999999999" x2="549.3" y1="475.50" y2="475.50" stroke="#000" stroke-width="1.0"/>
<line x1="545.0999999999999" x2="549.3" y1="385.53" y2="385.53" stroke="#000" stroke-width="1.0"/>
<line x1="545.0999999999999" x2="549.3" y1="295.56" y2="295.56" stroke="#000" stroke-width="1.0"/>
<line x1="545.0999999999999" x2="549.3" y1="205.59" y2="205.59" stroke="#000" stroke-width="1.0"/>
<line x1="545.0999999999999" x2="549.3" y1="115.62" y2="115.62" stroke="#000" stroke-width="1.0"/>
<line x1="545.0999999999999" x2="549.3" y1="25.65" y2="25.65" stroke="#000" stroke-width="1.0"/>
<text x="775.9" y="40.6">ΔGVD 1750</text>
<text x="775.9" y="70.8">ΔTOD 40k</text>
<text x="279.02" y="556.2" text-anchor="middle">time [fs]</text>
<text x="742.77" y="556.2" text-anchor="middle">time [fs]</text>
<text transform="translate(22.8 251.2) rotate(-90)" text-anchor="middle" textLength="316.5" lengthAdjust="spacing">norm. intensity [arb.u.]</text>
<rect x="336.85" y="19.2" width="346.9" height="167.0" rx="5.3" fill="#fff" fill-opacity="0.8" stroke="#ccc" stroke-opacity="0.8" stroke-width="1.5"/>
<line x1="347.9" x2="402.7" y1="40.7" y2="40.7" stroke="#1f77b4" stroke-width="4.57" stroke-linecap="square"/>
<text x="424.1" y="50.20" textLength="227.8" lengthAdjust="spacing">diagnostic-mode</text>
<line x1="347.9" x2="402.7" y1="80.8" y2="80.8" stroke="#d62728" stroke-width="4.57" stroke-dasharray="16.91 7.31"/>
<text x="424.1" y="90.30" textLength="170.4" lengthAdjust="spacing">power-mode</text>
<line x1="347.9" x2="402.7" y1="120.6" y2="120.6" stroke="#2ca02c" stroke-width="4.57" stroke-dasharray="4.57 7.54"/>
<text x="424.1" y="130.10" textLength="249.8" lengthAdjust="spacing">power-mode &amp; PM</text>
<line x1="347.9" x2="402.7" y1="160.2" y2="160.2" stroke="#808080" stroke-width="3.43" stroke-dasharray="21.95 5.49 3.43 5.49"/>
<text x="424.1" y="169.70" textLength="129.1" lengthAdjust="spacing">FTL pulse</text>
</svg>
</body>
</html>
